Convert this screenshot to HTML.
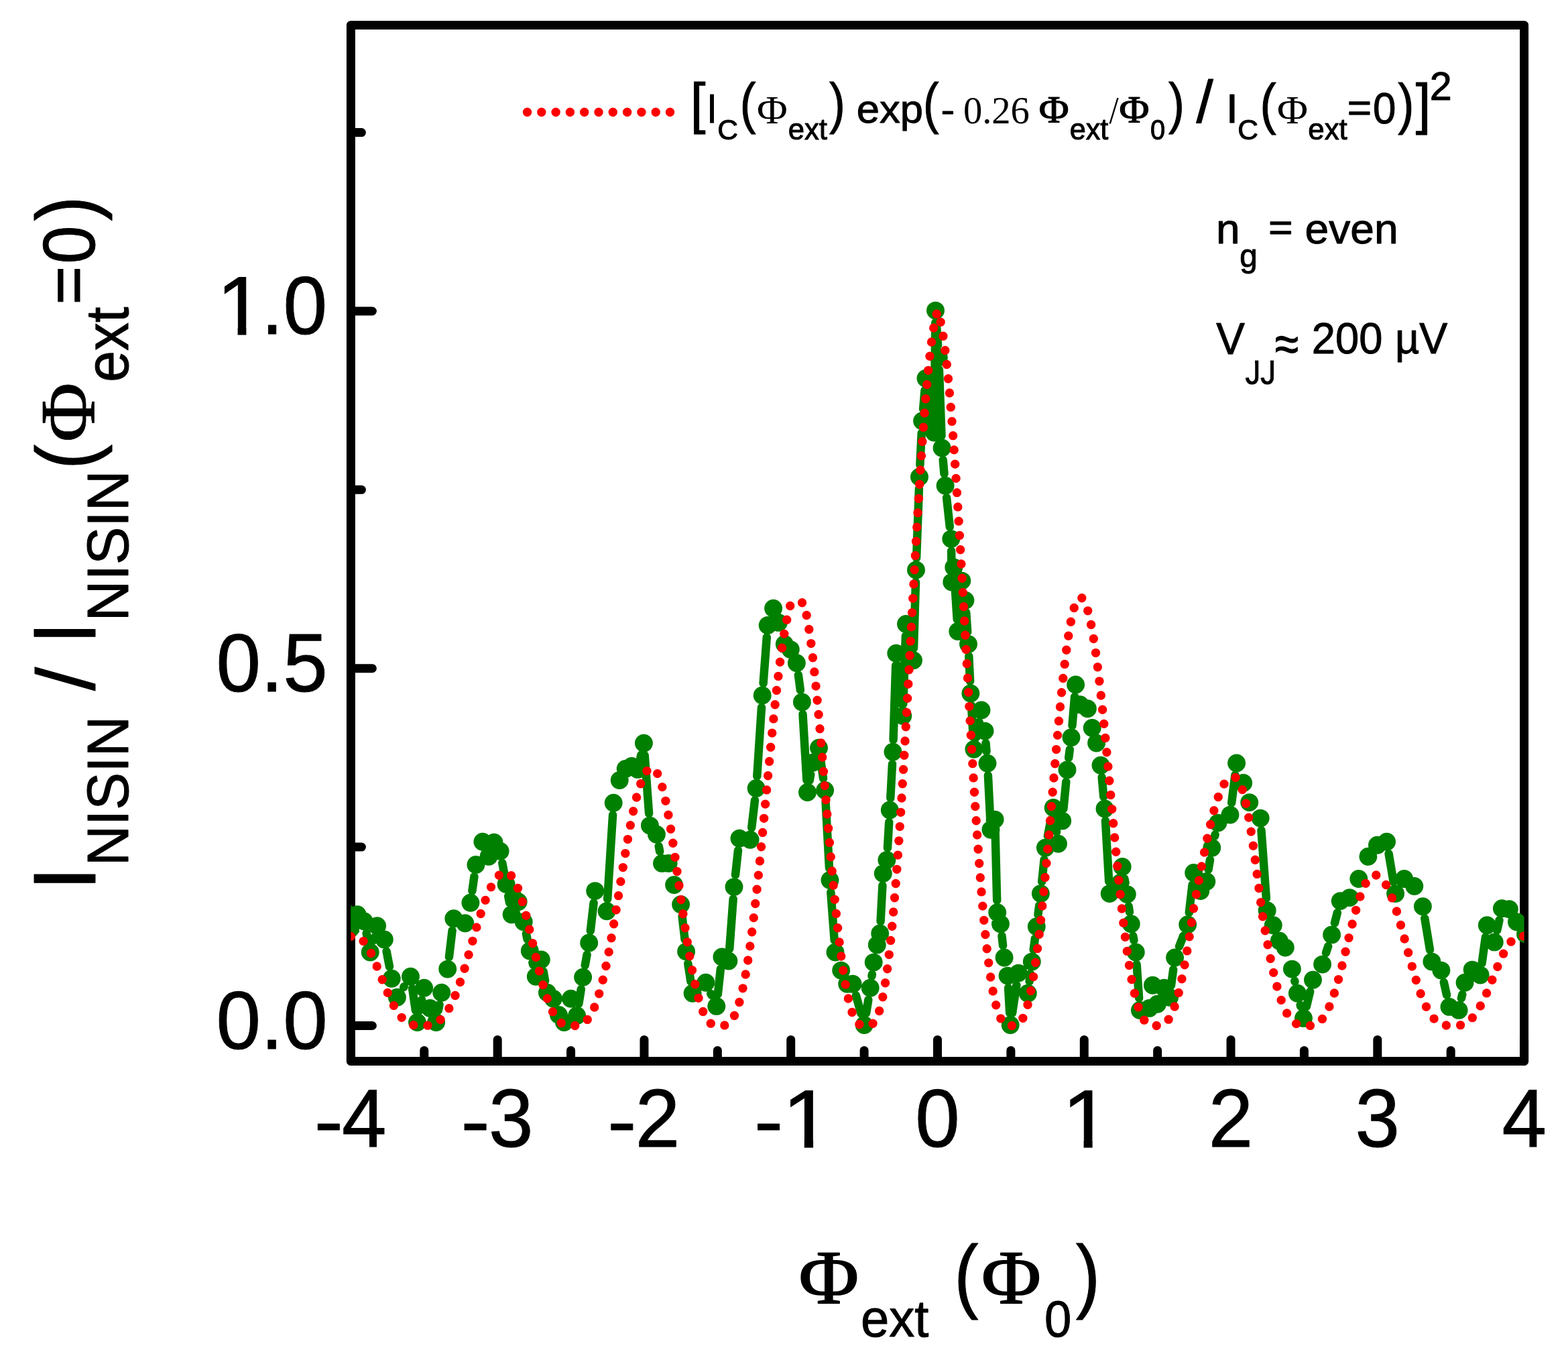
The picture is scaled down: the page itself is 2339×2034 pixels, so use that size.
<!DOCTYPE html>
<html><head><meta charset="utf-8"><title>Flux modulation of NISIN current</title>
<style>html,body{margin:0;padding:0;background:#fff}svg{display:block}text{white-space:pre}</style></head>
<body><svg width="2339" height="2034" viewBox="0 0 2339 2034">
<rect width="2339" height="2034" fill="#fff"/>
<rect x="523.4" y="37.4" width="1750.1999999999998" height="1545.0" fill="none" stroke="#000" stroke-width="13" stroke-linejoin="round"/>
<path d="M523.40,1582.4v-32 M742.18,1582.4v-32 M960.95,1582.4v-32 M1179.72,1582.4v-32 M1398.50,1582.4v-32 M1617.28,1582.4v-32 M1836.05,1582.4v-32 M2054.82,1582.4v-32 M2273.60,1582.4v-32 M632.79,1582.4v-16 M851.56,1582.4v-16 M1070.34,1582.4v-16 M1289.11,1582.4v-16 M1507.89,1582.4v-16 M1726.66,1582.4v-16 M1945.44,1582.4v-16 M2164.21,1582.4v-16 M523.4,1529.50h32 M523.4,996.74h32 M523.4,463.98h32 M523.4,1263.12h16 M523.4,730.36h16 M523.4,197.60h16" stroke="#000" stroke-width="13" stroke-linecap="round" fill="none"/>
<clipPath id="c1"><path d="M0,-75H40V-8.6H34.5V2H24.6V-8.6H0Z"/></clipPath>
<text transform="matrix(1.3102,0,0,1.1484,468.50,1710.53)" font-family='"Liberation Sans", Arial, sans-serif' font-size="100" stroke="#000" stroke-width="0.81" stroke-linejoin="round" fill="#000">-</text>
<text transform="translate(510.10,1710.40) scale(1,1.024)" font-family='"Liberation Sans", Arial, sans-serif' font-size="119.5" text-anchor="start" stroke="#000" stroke-width="1.0">4</text>
<text transform="matrix(1.3102,0,0,1.1484,687.28,1710.53)" font-family='"Liberation Sans", Arial, sans-serif' font-size="100" stroke="#000" stroke-width="0.81" stroke-linejoin="round" fill="#000">-</text>
<text transform="translate(728.88,1710.40) scale(1,1.024)" font-family='"Liberation Sans", Arial, sans-serif' font-size="119.5" text-anchor="start" stroke="#000" stroke-width="1.0">3</text>
<text transform="matrix(1.3102,0,0,1.1484,906.05,1710.53)" font-family='"Liberation Sans", Arial, sans-serif' font-size="100" stroke="#000" stroke-width="0.81" stroke-linejoin="round" fill="#000">-</text>
<text transform="translate(947.65,1710.40) scale(1,1.024)" font-family='"Liberation Sans", Arial, sans-serif' font-size="119.5" text-anchor="start" stroke="#000" stroke-width="1.0">2</text>
<text transform="matrix(1.3102,0,0,1.1484,1124.83,1710.53)" font-family='"Liberation Sans", Arial, sans-serif' font-size="100" stroke="#000" stroke-width="0.81" stroke-linejoin="round" fill="#000">-</text>
<text transform="matrix(1.3402,0,0,1.2267,1166.86,1710.50)" clip-path="url(#c1)" font-family='"Liberation Sans", Arial, sans-serif' font-size="100" stroke="#000" stroke-width="0.78">1</text>
<text transform="translate(1398.50,1710.40) scale(1,1.024)" font-family='"Liberation Sans", Arial, sans-serif' font-size="119.5" text-anchor="middle" stroke="#000" stroke-width="1.0">0</text>
<text transform="matrix(1.3156,0,0,1.2267,1584.25,1710.50)" clip-path="url(#c1)" font-family='"Liberation Sans", Arial, sans-serif' font-size="100" stroke="#000" stroke-width="0.79">1</text>
<text transform="translate(1836.05,1710.40) scale(1,1.024)" font-family='"Liberation Sans", Arial, sans-serif' font-size="119.5" text-anchor="middle" stroke="#000" stroke-width="1.0">2</text>
<text transform="translate(2054.82,1710.40) scale(1,1.024)" font-family='"Liberation Sans", Arial, sans-serif' font-size="119.5" text-anchor="middle" stroke="#000" stroke-width="1.0">3</text>
<text transform="translate(2273.60,1710.40) scale(1,1.024)" font-family='"Liberation Sans", Arial, sans-serif' font-size="119.5" text-anchor="middle" stroke="#000" stroke-width="1.0">4</text>
<text transform="translate(488.60,1564.10) scale(1,1.024)" font-family='"Liberation Sans", Arial, sans-serif' font-size="119.5" text-anchor="end" stroke="#000" stroke-width="1.0">0.0</text>
<text transform="translate(488.60,1031.34) scale(1,1.024)" font-family='"Liberation Sans", Arial, sans-serif' font-size="119.5" text-anchor="end" stroke="#000" stroke-width="1.0">0.5</text>
<text transform="matrix(1.2869,0,0,1.2369,322.95,498.50)" clip-path="url(#c1)" font-family='"Liberation Sans", Arial, sans-serif' font-size="100" stroke="#000" stroke-width="0.79">1</text>
<text transform="matrix(1.1787,0,0,1.2198,389.79,498.28)" font-family='"Liberation Sans", Arial, sans-serif' font-size="100" stroke="#000" stroke-width="0.83" stroke-linejoin="round" fill="#000">.0</text>
<clipPath id="cp"><rect x="523.4" y="37.4" width="1750.1999999999998" height="1545.0"/></clipPath>
<g clip-path="url(#cp)">
<path d="M546.6,1391.5L548.7,1402.3 M556.8,1402.6L558.0,1398.2 M576.6,1418.6L581.0,1441.5 M602.2,1472.2L602.7,1471.3 M615.1,1474.0L619.9,1506.7 M626.0,1506.8L629.1,1490.9 M653.8,1506.8L655.5,1498.0 M669.9,1427.2L674.6,1387.7 M704.4,1328.5L707.4,1307.2 M749.3,1287.0L751.9,1300.8 M758.2,1336.2L760.0,1346.0 M784.9,1392.4L786.6,1400.4 M794.4,1435.5L795.2,1438.7 M810.6,1448.7L813.1,1462.6 M863.4,1496.6L866.8,1475.0 M872.7,1439.5L875.6,1423.6 M880.8,1388.0L885.6,1346.5 M906.2,1340.7L914.1,1215.2 M955.4,1129.9L956.3,1125.7 M961.7,1126.2L968.1,1213.1 M982.7,1261.9L984.2,1269.7 M1017.6,1366.6L1021.6,1401.1 M1026.3,1436.8L1030.4,1463.5 M1060.2,1481.6L1061.4,1484.0 M1070.8,1482.5L1074.9,1444.9 M1088.2,1415.0L1093.7,1340.6 M1097.0,1304.7L1101.0,1268.1 M1121.2,1234.3L1126.0,1193.4 M1129.3,1157.5L1136.0,1054.9 M1138.6,1019.0L1143.8,950.3 M1190.9,1006.5L1193.9,1029.1 M1197.5,1064.9L1203.4,1163.5 M1207.7,1163.8L1209.3,1155.0 M1224.1,1133.0L1228.0,1160.7 M1231.6,1196.5L1237.0,1294.5 M1239.3,1330.5L1244.7,1402.0 M1276.9,1484.5L1284.4,1511.2 M1292.1,1510.7L1295.3,1491.0 M1300.5,1455.4L1300.9,1452.9 M1313.6,1373.9L1316.4,1320.5 M1324.0,1264.4L1326.2,1226.0 M1328.3,1190.0L1331.0,1139.3 M1332.6,1103.3L1336.2,992.2 M1338.7,992.1L1344.9,1049.7 M1347.4,1049.6L1350.9,948.4 M1355.1,948.0L1358.9,967.1 M1363.0,966.7L1366.0,868.0 M1367.1,832.0L1370.9,729.2 M1372.4,693.2L1374.7,645.8 M1377.1,609.9L1379.5,582.1 M1383.8,582.0L1390.7,627.2 M1393.7,627.0L1395.3,481.1 M1396.7,481.1L1399.1,515.0 M1400.9,551.0L1404.5,650.0 M1406.7,685.9L1408.5,706.4 M1412.1,742.2L1416.8,785.7 M1419.1,821.6L1419.5,850.1 M1423.9,864.0L1427.7,923.5 M1430.2,923.6L1433.4,884.0 M1441.2,913.2L1443.2,942.5 M1445.3,978.5L1447.1,1015.9 M1449.0,1051.9L1451.8,1099.2 M1456.3,1099.5L1460.6,1076.7 M1470.5,1108.0L1471.5,1120.4 M1473.9,1156.3L1477.1,1219.2 M1484.6,1240.1L1487.2,1342.7 M1494.5,1395.7L1496.1,1410.1 M1504.1,1473.1L1506.2,1510.5 M1510.0,1510.7L1516.4,1468.9 M1535.6,1463.4L1537.0,1452.0 M1541.7,1416.3L1543.9,1399.6 M1548.5,1363.9L1550.2,1350.5 M1554.2,1314.7L1557.6,1282.2 M1562.9,1246.6L1567.7,1222.2 M1573.6,1222.3L1576.1,1240.5 M1586.4,1206.2L1590.3,1165.9 M1594.2,1130.1L1595.8,1117.7 M1599.5,1081.9L1603.1,1038.9 M1643.7,1159.1L1646.3,1188.1 M1649.0,1224.0L1654.2,1314.6 M1677.3,1310.1L1678.2,1315.9 M1683.7,1351.4L1684.9,1360.0 M1690.2,1395.6L1691.4,1402.2 M1695.6,1438.0L1699.1,1488.4 M1747.0,1469.5L1750.2,1445.8 M1759.1,1411.2L1765.2,1395.6 M1773.8,1360.9L1778.6,1319.4 M1802.6,1296.7L1805.0,1282.1 M1812.1,1246.8L1812.6,1244.6 M1837.2,1197.2L1842.4,1155.8 M1881.5,1238.1L1888.9,1339.7 M1931.3,1462.7L1931.5,1463.7 M1939.7,1498.8L1940.2,1500.9 M1948.8,1500.9L1954.2,1478.7 M1978.0,1420.9L1981.2,1411.1 M1991.0,1376.4L1994.9,1361.1 M2071.6,1273.0L2078.6,1314.8 M2125.3,1369.5L2133.0,1416.3 M2153.8,1464.7L2158.1,1483.8 M2179.9,1488.8L2181.3,1482.8 M2210.6,1436.3L2215.9,1397.6 M2233.2,1387.3L2236.5,1372.3" fill="none" stroke="#008000" stroke-width="12.5" stroke-linecap="round"/>
<path d="M523,1349L535,1362L536,1389.8L530.1,1396.5L523,1389.8Z" fill="#008000"/>
<path d="M523.5,1376.8h0 M533.1,1363.7h0 M543.1,1373.8h0 M552.2,1420.0h0 M562.6,1380.8h0 M573.3,1400.9h0 M584.3,1459.2h0 M592.4,1487.3h0 M612.5,1456.2h0 M622.5,1524.5h0 M632.6,1473.2h0 M641.6,1503.4h0 M650.6,1524.5h0 M658.7,1480.3h0 M667.7,1445.1h0 M676.8,1369.8h0 M693.8,1376.8h0 M701.9,1346.3h0 M709.9,1289.4h0 M719.9,1255.2h0 M729.0,1277.3h0 M737.0,1256.3h0 M746.1,1269.3h0 M755.1,1318.5h0 M763.1,1363.7h0 M766.2,1338.6h0 M773.2,1344.7h0 M781.2,1374.8h0 M790.3,1418.0h0 M799.3,1456.2h0 M807.3,1431.0h0 M816.4,1480.3h0 M825.4,1489.3h0 M833.5,1513.4h0 M841.5,1524.5h0 M851.5,1489.3h0 M860.6,1514.4h0 M869.6,1457.2h0 M878.7,1405.9h0 M887.7,1328.6h0 M905.1,1358.7h0 M915.2,1197.2h0 M924.2,1163.5h0 M933.2,1146.4h0 M942.3,1142.4h0 M951.3,1147.4h0 M960.4,1108.2h0 M969.4,1231.1h0 M979.4,1244.2h0 M987.5,1287.4h0 M997.1,1287.4h0 M1005.6,1319.5h0 M1015.6,1348.7h0 M1023.6,1419.0h0 M1033.1,1481.3h0 M1052.8,1465.2h0 M1068.8,1500.4h0 M1076.9,1427.0h0 M1086.9,1433.0h0 M1095.0,1322.6h0 M1103.0,1250.2h0 M1119.1,1252.2h0 M1128.1,1175.5h0 M1137.2,1036.9h0 M1145.2,932.4h0 M1153.6,907.3h0 M1161.3,928.4h0 M1170.3,960.5h0 M1179.3,968.6h0 M1188.4,988.7h0 M1196.4,1046.9h0 M1204.5,1181.5h0 M1212.5,1137.3h0 M1221.5,1115.2h0 M1230.6,1178.5h0 M1238.0,1312.5h0 M1246.0,1420.0h0 M1254.7,1447.1h0 M1263.7,1467.2h0 M1272.1,1467.2h0 M1289.2,1528.5h0 M1298.2,1473.2h0 M1303.2,1435.1h0 M1308.3,1408.9h0 M1312.7,1391.9h0 M1317.3,1302.5h0 M1322.9,1282.4h0 M1327.3,1208.0h0 M1332.0,1121.3h0 M1336.8,974.2h0 M1346.8,1067.6h0 M1351.5,930.4h0 M1362.5,984.7h0 M1366.5,850.0h0 M1371.5,711.2h0 M1375.6,627.8h0 M1381.0,564.2h0 M1393.5,645.0h0 M1395.5,463.1h0 M1400.3,533.0h0 M1405.1,668.0h0 M1410.1,724.3h0 M1418.8,803.6h0 M1419.8,868.1h0 M1422.8,846.0h0 M1428.8,941.5h0 M1434.8,866.1h0 M1439.9,895.2h0 M1444.5,960.5h0 M1447.9,1033.9h0 M1452.9,1117.2h0 M1464.0,1059.0h0 M1469.0,1090.1h0 M1473.0,1138.3h0 M1478.0,1237.2h0 M1484.1,1222.1h0 M1487.7,1360.7h0 M1492.5,1377.8h0 M1498.1,1428.0h0 M1503.1,1455.1h0 M1507.2,1528.5h0 M1519.2,1451.1h0 M1533.3,1481.3h0 M1539.3,1434.1h0 M1546.3,1381.8h0 M1552.4,1332.6h0 M1559.4,1264.3h0 M1571.2,1204.5h0 M1578.5,1258.3h0 M1584.7,1224.1h0 M1592.0,1148.0h0 M1598.0,1099.8h0 M1604.6,1021.0h0 M1611.1,1050.8h0 M1622.4,1056.8h0 M1629.2,1085.5h0 M1635.6,1108.1h0 M1642.0,1141.2h0 M1648.0,1206.0h0 M1655.2,1332.6h0 M1671.2,1316.5h0 M1674.2,1292.4h0 M1681.3,1333.6h0 M1687.3,1377.8h0 M1694.3,1420.0h0 M1700.4,1506.4h0 M1714.4,1503.4h0 M1719.4,1469.2h0 M1726.5,1497.3h0 M1736.5,1473.2h0 M1744.6,1487.3h0 M1752.6,1428.0h0 M1771.7,1378.8h0 M1780.7,1301.5h0 M1790.8,1328.6h0 M1799.8,1314.5h0 M1807.8,1264.3h0 M1816.9,1227.1h0 M1835.0,1215.1h0 M1844.6,1137.9h0 M1854.7,1167.5h0 M1863.7,1196.6h0 M1880.2,1220.1h0 M1890.2,1357.7h0 M1899.3,1379.8h0 M1908.3,1402.9h0 M1917.3,1413.0h0 M1927.4,1445.1h0 M1935.4,1481.3h0 M1944.5,1518.4h0 M1958.5,1461.2h0 M1972.6,1438.1h0 M1986.6,1393.9h0 M1999.3,1343.6h0 M2013.3,1338.6h0 M2026.8,1310.5h0 M2040.9,1277.3h0 M2054.5,1260.3h0 M2068.6,1255.2h0 M2081.6,1332.6h0 M2094.7,1310.5h0 M2109.8,1321.5h0 M2122.4,1351.7h0 M2135.9,1434.1h0 M2149.9,1447.1h0 M2162.0,1501.4h0 M2176.1,1506.4h0 M2185.1,1465.2h0 M2196.2,1446.1h0 M2208.2,1454.1h0 M2218.3,1379.8h0 M2229.3,1404.9h0 M2240.4,1354.7h0 M2251.4,1355.7h0 M2262.5,1374.8h0 M2275.5,1392.9h0" fill="none" stroke="#008000" stroke-width="26.9" stroke-linecap="round"/>
<path d="M523.40,1396.38 L523.95,1396.22 L524.49,1396.08 L525.04,1395.96 L525.59,1395.86 L526.13,1395.79 L526.68,1395.73 L527.23,1395.70 L527.78,1395.69 L528.32,1395.70 L528.87,1395.73 L529.42,1395.78 L529.96,1395.86 L530.51,1395.96 L531.06,1396.08 L531.60,1396.23 L532.15,1396.40 L532.70,1396.59 L533.24,1396.80 L533.79,1397.04 L534.34,1397.30 L534.89,1397.58 L535.43,1397.89 L535.98,1398.23 L536.53,1398.58 L537.07,1398.96 L537.62,1399.37 L538.17,1399.80 L538.71,1400.25 L539.26,1400.73 L539.81,1401.23 L540.36,1401.76 L540.90,1402.31 L541.45,1402.88 L542.00,1403.48 L542.54,1404.11 L543.09,1404.76 L543.64,1405.43 L544.18,1406.13 L544.73,1406.85 L545.28,1407.60 L545.82,1408.37 L546.37,1409.16 L546.92,1409.98 L547.47,1410.82 L548.01,1411.69 L548.56,1412.58 L549.11,1413.49 L549.65,1414.42 L550.20,1415.37 L550.75,1416.35 L551.29,1417.35 L551.84,1418.37 L552.39,1419.41 L552.93,1420.47 L553.48,1421.55 L554.03,1422.64 L554.58,1423.76 L555.12,1424.90 L555.67,1426.05 L556.22,1427.22 L556.76,1428.40 L557.31,1429.61 L557.86,1430.82 L558.40,1432.05 L558.95,1433.30 L559.50,1434.56 L560.04,1435.83 L560.59,1437.11 L561.14,1438.40 L561.69,1439.71 L562.23,1441.02 L562.78,1442.34 L563.33,1443.67 L563.87,1445.01 L564.42,1446.35 L564.97,1447.70 L565.51,1449.06 L566.06,1450.42 L566.61,1451.78 L567.16,1453.15 L567.70,1454.51 L568.25,1455.88 L568.80,1457.25 L569.34,1458.62 L569.89,1459.99 L570.44,1461.35 L570.98,1462.72 L571.53,1464.08 L572.08,1465.44 L572.62,1466.79 L573.17,1468.14 L573.72,1469.48 L574.27,1470.82 L574.81,1472.14 L575.36,1473.46 L575.91,1474.78 L576.45,1476.08 L577.00,1477.37 L577.55,1478.66 L578.09,1479.93 L578.64,1481.20 L579.19,1482.45 L579.73,1483.69 L580.28,1484.91 L580.83,1486.13 L581.38,1487.33 L581.92,1488.52 L582.47,1489.69 L583.02,1490.85 L583.56,1491.99 L584.11,1493.12 L584.66,1494.23 L585.20,1495.33 L585.75,1496.41 L586.30,1497.47 L586.84,1498.52 L587.39,1499.55 L587.94,1500.57 L588.49,1501.56 L589.03,1502.54 L589.58,1503.50 L590.13,1504.45 L590.67,1505.37 L591.22,1506.28 L591.77,1507.17 L592.31,1508.04 L592.86,1508.89 L593.41,1509.72 L593.95,1510.53 L594.50,1511.33 L595.05,1512.11 L595.60,1512.86 L596.14,1513.60 L596.69,1514.32 L597.24,1515.02 L597.78,1515.71 L598.33,1516.37 L598.88,1517.01 L599.42,1517.64 L599.97,1518.25 L600.52,1518.83 L601.07,1519.40 L601.61,1519.95 L602.16,1520.49 L602.71,1521.00 L603.25,1521.50 L603.80,1521.98 L604.35,1522.44 L604.89,1522.88 L605.44,1523.31 L605.99,1523.72 L606.53,1524.11 L607.08,1524.48 L607.63,1524.84 L608.18,1525.18 L608.72,1525.51 L609.27,1525.82 L609.82,1526.11 L610.36,1526.39 L610.91,1526.66 L611.46,1526.91 L612.00,1527.14 L612.55,1527.36 L613.10,1527.57 L613.64,1527.76 L614.19,1527.95 L614.74,1528.11 L615.29,1528.27 L615.83,1528.41 L616.38,1528.55 L616.93,1528.67 L617.47,1528.78 L618.02,1528.88 L618.57,1528.97 L619.11,1529.05 L619.66,1529.13 L620.21,1529.19 L620.75,1529.25 L621.30,1529.30 L621.85,1529.34 L622.40,1529.38 L622.94,1529.41 L623.49,1529.43 L624.04,1529.45 L624.58,1529.47 L625.13,1529.48 L625.68,1529.49 L626.22,1529.49 L626.77,1529.50 L627.32,1529.50 L627.87,1529.50 L628.41,1529.50 L628.96,1529.50 L629.51,1529.50 L630.05,1529.50 L630.60,1529.50 L631.15,1529.49 L631.69,1529.49 L632.24,1529.48 L632.79,1529.47 L633.33,1529.45 L633.88,1529.44 L634.43,1529.42 L634.98,1529.39 L635.52,1529.36 L636.07,1529.33 L636.62,1529.29 L637.16,1529.24 L637.71,1529.19 L638.26,1529.13 L638.80,1529.07 L639.35,1529.00 L639.90,1528.92 L640.44,1528.83 L640.99,1528.73 L641.54,1528.63 L642.09,1528.52 L642.63,1528.39 L643.18,1528.26 L643.73,1528.12 L644.27,1527.96 L644.82,1527.80 L645.37,1527.62 L645.91,1527.44 L646.46,1527.24 L647.01,1527.03 L647.55,1526.81 L648.10,1526.57 L648.65,1526.32 L649.20,1526.06 L649.74,1525.78 L650.29,1525.49 L650.84,1525.18 L651.38,1524.86 L651.93,1524.53 L652.48,1524.18 L653.02,1523.81 L653.57,1523.43 L654.12,1523.03 L654.67,1522.62 L655.21,1522.19 L655.76,1521.74 L656.31,1521.27 L656.85,1520.79 L657.40,1520.29 L657.95,1519.77 L658.49,1519.24 L659.04,1518.68 L659.59,1518.11 L660.13,1517.51 L660.68,1516.90 L661.23,1516.27 L661.78,1515.62 L662.32,1514.95 L662.87,1514.26 L663.42,1513.55 L663.96,1512.82 L664.51,1512.07 L665.06,1511.30 L665.60,1510.51 L666.15,1509.70 L666.70,1508.87 L667.24,1508.01 L667.79,1507.14 L668.34,1506.24 L668.89,1505.33 L669.43,1504.39 L669.98,1503.43 L670.53,1502.45 L671.07,1501.44 L671.62,1500.42 L672.17,1499.37 L672.71,1498.30 L673.26,1497.21 L673.81,1496.10 L674.35,1494.97 L674.90,1493.81 L675.45,1492.64 L676.00,1491.44 L676.54,1490.22 L677.09,1488.98 L677.64,1487.72 L678.18,1486.43 L678.73,1485.13 L679.28,1483.80 L679.82,1482.45 L680.37,1481.09 L680.92,1479.70 L681.46,1478.29 L682.01,1476.86 L682.56,1475.41 L683.11,1473.94 L683.65,1472.45 L684.20,1470.94 L684.75,1469.41 L685.29,1467.86 L685.84,1466.30 L686.39,1464.71 L686.93,1463.11 L687.48,1461.49 L688.03,1459.85 L688.58,1458.20 L689.12,1456.53 L689.67,1454.84 L690.22,1453.14 L690.76,1451.42 L691.31,1449.69 L691.86,1447.94 L692.40,1446.18 L692.95,1444.41 L693.50,1442.62 L694.04,1440.82 L694.59,1439.01 L695.14,1437.19 L695.69,1435.36 L696.23,1433.52 L696.78,1431.67 L697.33,1429.81 L697.87,1427.94 L698.42,1426.06 L698.97,1424.18 L699.51,1422.29 L700.06,1420.40 L700.61,1418.50 L701.15,1416.60 L701.70,1414.69 L702.25,1412.78 L702.80,1410.87 L703.34,1408.96 L703.89,1407.05 L704.44,1405.14 L704.98,1403.23 L705.53,1401.32 L706.08,1399.41 L706.62,1397.51 L707.17,1395.61 L707.72,1393.71 L708.26,1391.82 L708.81,1389.94 L709.36,1388.06 L709.91,1386.19 L710.45,1384.33 L711.00,1382.48 L711.55,1380.63 L712.09,1378.80 L712.64,1376.98 L713.19,1375.17 L713.73,1373.37 L714.28,1371.59 L714.83,1369.81 L715.38,1368.06 L715.92,1366.31 L716.47,1364.58 L717.02,1362.87 L717.56,1361.18 L718.11,1359.50 L718.66,1357.84 L719.20,1356.19 L719.75,1354.57 L720.30,1352.96 L720.84,1351.38 L721.39,1349.81 L721.94,1348.26 L722.49,1346.74 L723.03,1345.23 L723.58,1343.75 L724.13,1342.29 L724.67,1340.85 L725.22,1339.43 L725.77,1338.04 L726.31,1336.66 L726.86,1335.32 L727.41,1333.99 L727.95,1332.69 L728.50,1331.41 L729.05,1330.16 L729.60,1328.93 L730.14,1327.73 L730.69,1326.55 L731.24,1325.39 L731.78,1324.26 L732.33,1323.16 L732.88,1322.08 L733.42,1321.02 L733.97,1319.99 L734.52,1318.99 L735.06,1318.01 L735.61,1317.06 L736.16,1316.14 L736.71,1315.23 L737.25,1314.36 L737.80,1313.51 L738.35,1312.69 L738.89,1311.89 L739.44,1311.12 L739.99,1310.38 L740.53,1309.66 L741.08,1308.97 L741.63,1308.30 L742.18,1307.66 L742.72,1307.05 L743.27,1306.47 L743.82,1305.91 L744.36,1305.37 L744.91,1304.87 L745.46,1304.39 L746.00,1303.94 L746.55,1303.51 L747.10,1303.11 L747.64,1302.74 L748.19,1302.39 L748.74,1302.08 L749.29,1301.79 L749.83,1301.52 L750.38,1301.29 L750.93,1301.08 L751.47,1300.90 L752.02,1300.75 L752.57,1300.63 L753.11,1300.53 L753.66,1300.51 L754.21,1300.52 L754.75,1300.56 L755.30,1300.65 L755.85,1300.78 L756.40,1300.94 L756.94,1301.15 L757.49,1301.40 L758.04,1301.68 L758.58,1302.00 L759.13,1302.37 L759.68,1302.78 L760.22,1303.22 L760.77,1303.71 L761.32,1304.24 L761.86,1304.81 L762.41,1305.42 L762.96,1306.08 L763.51,1306.78 L764.05,1307.51 L764.60,1308.30 L765.15,1309.12 L765.69,1309.99 L766.24,1310.90 L766.79,1311.85 L767.33,1312.84 L767.88,1313.88 L768.43,1314.96 L768.97,1316.08 L769.52,1317.25 L770.07,1318.46 L770.62,1319.71 L771.16,1321.00 L771.71,1322.33 L772.26,1323.71 L772.80,1325.12 L773.35,1326.58 L773.90,1328.08 L774.44,1329.62 L774.99,1331.19 L775.54,1332.81 L776.09,1334.46 L776.63,1336.16 L777.18,1337.89 L777.73,1339.65 L778.27,1341.45 L778.82,1343.29 L779.37,1345.16 L779.91,1347.06 L780.46,1349.00 L781.01,1350.96 L781.55,1352.96 L782.10,1354.99 L782.65,1357.04 L783.20,1359.12 L783.74,1361.23 L784.29,1363.36 L784.84,1365.52 L785.38,1367.70 L785.93,1369.90 L786.48,1372.12 L787.02,1374.36 L787.57,1376.61 L788.12,1378.89 L788.66,1381.17 L789.21,1383.48 L789.76,1385.79 L790.31,1388.11 L790.85,1390.45 L791.40,1392.79 L791.95,1395.14 L792.49,1397.49 L793.04,1399.85 L793.59,1402.22 L794.13,1404.58 L794.68,1406.94 L795.23,1409.31 L795.77,1411.67 L796.32,1414.02 L796.87,1416.38 L797.42,1418.72 L797.96,1421.06 L798.51,1423.39 L799.06,1425.72 L799.60,1428.03 L800.15,1430.33 L800.70,1432.61 L801.24,1434.89 L801.79,1437.14 L802.34,1439.38 L802.89,1441.61 L803.43,1443.82 L803.98,1446.00 L804.53,1448.17 L805.07,1450.32 L805.62,1452.45 L806.17,1454.55 L806.71,1456.63 L807.26,1458.69 L807.81,1460.72 L808.35,1462.73 L808.90,1464.71 L809.45,1466.67 L810.00,1468.60 L810.54,1470.50 L811.09,1472.37 L811.64,1474.22 L812.18,1476.03 L812.73,1477.82 L813.28,1479.58 L813.82,1481.31 L814.37,1483.00 L814.92,1484.67 L815.46,1486.30 L816.01,1487.91 L816.56,1489.48 L817.11,1491.02 L817.65,1492.52 L818.20,1494.00 L818.75,1495.44 L819.29,1496.85 L819.84,1498.23 L820.39,1499.57 L820.93,1500.89 L821.48,1502.16 L822.03,1503.41 L822.57,1504.62 L823.12,1505.80 L823.67,1506.95 L824.22,1508.06 L824.76,1509.15 L825.31,1510.20 L825.86,1511.21 L826.40,1512.20 L826.95,1513.15 L827.50,1514.07 L828.04,1514.96 L828.59,1515.82 L829.14,1516.64 L829.69,1517.44 L830.23,1518.20 L830.78,1518.94 L831.33,1519.64 L831.87,1520.31 L832.42,1520.96 L832.97,1521.58 L833.51,1522.16 L834.06,1522.72 L834.61,1523.26 L835.15,1523.76 L835.70,1524.24 L836.25,1524.69 L836.80,1525.12 L837.34,1525.52 L837.89,1525.90 L838.44,1526.25 L838.98,1526.59 L839.53,1526.89 L840.08,1527.18 L840.62,1527.45 L841.17,1527.69 L841.72,1527.92 L842.26,1528.12 L842.81,1528.31 L843.36,1528.48 L843.91,1528.63 L844.45,1528.77 L845.00,1528.89 L845.55,1529.00 L846.09,1529.10 L846.64,1529.18 L847.19,1529.25 L847.73,1529.31 L848.28,1529.36 L848.83,1529.40 L849.37,1529.43 L849.92,1529.45 L850.47,1529.47 L851.02,1529.48 L851.56,1529.49 L852.11,1529.50 L852.66,1529.50 L853.20,1529.50 L853.75,1529.50 L854.30,1529.50 L854.84,1529.50 L855.39,1529.50 L855.94,1529.49 L856.48,1529.48 L857.03,1529.47 L857.58,1529.45 L858.13,1529.42 L858.67,1529.39 L859.22,1529.36 L859.77,1529.31 L860.31,1529.26 L860.86,1529.19 L861.41,1529.12 L861.95,1529.03 L862.50,1528.93 L863.05,1528.82 L863.60,1528.70 L864.14,1528.56 L864.69,1528.41 L865.24,1528.24 L865.78,1528.06 L866.33,1527.86 L866.88,1527.64 L867.42,1527.40 L867.97,1527.14 L868.52,1526.86 L869.06,1526.56 L869.61,1526.24 L870.16,1525.90 L870.71,1525.53 L871.25,1525.14 L871.80,1524.73 L872.35,1524.29 L872.89,1523.83 L873.44,1523.34 L873.99,1522.82 L874.53,1522.28 L875.08,1521.71 L875.63,1521.11 L876.17,1520.48 L876.72,1519.82 L877.27,1519.13 L877.82,1518.41 L878.36,1517.65 L878.91,1516.87 L879.46,1516.05 L880.00,1515.20 L880.55,1514.32 L881.10,1513.40 L881.64,1512.45 L882.19,1511.46 L882.74,1510.44 L883.28,1509.38 L883.83,1508.29 L884.38,1507.16 L884.93,1505.99 L885.47,1504.79 L886.02,1503.54 L886.57,1502.26 L887.11,1500.94 L887.66,1499.59 L888.21,1498.19 L888.75,1496.75 L889.30,1495.28 L889.85,1493.76 L890.40,1492.21 L890.94,1490.61 L891.49,1488.97 L892.04,1487.30 L892.58,1485.58 L893.13,1483.82 L893.68,1482.02 L894.22,1480.18 L894.77,1478.30 L895.32,1476.38 L895.86,1474.42 L896.41,1472.41 L896.96,1470.37 L897.51,1468.28 L898.05,1466.15 L898.60,1463.98 L899.15,1461.77 L899.69,1459.52 L900.24,1457.23 L900.79,1454.90 L901.33,1452.53 L901.88,1450.12 L902.43,1447.66 L902.97,1445.17 L903.52,1442.65 L904.07,1440.08 L904.62,1437.47 L905.16,1434.83 L905.71,1432.15 L906.26,1429.43 L906.80,1426.68 L907.35,1423.89 L907.90,1421.07 L908.44,1418.21 L908.99,1415.32 L909.54,1412.40 L910.08,1409.44 L910.63,1406.45 L911.18,1403.44 L911.73,1400.39 L912.27,1397.32 L912.82,1394.21 L913.37,1391.08 L913.91,1387.93 L914.46,1384.75 L915.01,1381.54 L915.55,1378.32 L916.10,1375.07 L916.65,1371.80 L917.19,1368.52 L917.74,1365.21 L918.29,1361.89 L918.84,1358.55 L919.38,1355.20 L919.93,1351.84 L920.48,1348.47 L921.02,1345.08 L921.57,1341.69 L922.12,1338.29 L922.66,1334.89 L923.21,1331.48 L923.76,1328.06 L924.31,1324.65 L924.85,1321.24 L925.40,1317.83 L925.95,1314.42 L926.49,1311.01 L927.04,1307.61 L927.59,1304.22 L928.13,1300.84 L928.68,1297.47 L929.23,1294.11 L929.77,1290.76 L930.32,1287.43 L930.87,1284.11 L931.42,1280.81 L931.96,1277.54 L932.51,1274.28 L933.06,1271.04 L933.60,1267.82 L934.15,1264.63 L934.70,1261.47 L935.24,1258.33 L935.79,1255.22 L936.34,1252.14 L936.88,1249.09 L937.43,1246.07 L937.98,1243.08 L938.53,1240.13 L939.07,1237.21 L939.62,1234.33 L940.17,1231.48 L940.71,1228.67 L941.26,1225.90 L941.81,1223.17 L942.35,1220.47 L942.90,1217.82 L943.45,1215.21 L943.99,1212.64 L944.54,1210.12 L945.09,1207.63 L945.64,1205.20 L946.18,1202.80 L946.73,1200.45 L947.28,1198.15 L947.82,1195.89 L948.37,1193.68 L948.92,1191.51 L949.46,1189.39 L950.01,1187.32 L950.56,1185.29 L951.11,1183.32 L951.65,1181.39 L952.20,1179.51 L952.75,1177.68 L953.29,1175.89 L953.84,1174.16 L954.39,1172.47 L954.93,1170.84 L955.48,1169.25 L956.03,1167.71 L956.57,1166.22 L957.12,1164.78 L957.67,1163.39 L958.22,1162.05 L958.76,1160.76 L959.31,1159.52 L959.86,1158.34 L960.40,1157.20 L960.95,1156.11 L961.50,1155.07 L962.04,1154.08 L962.59,1153.14 L963.14,1152.25 L963.68,1151.41 L964.23,1150.63 L964.78,1149.89 L965.33,1149.21 L965.87,1148.58 L966.42,1147.99 L966.97,1147.46 L967.51,1146.99 L968.06,1146.56 L968.61,1146.19 L969.15,1145.87 L969.70,1145.60 L970.25,1145.38 L970.79,1145.22 L971.34,1145.13 L971.89,1145.11 L972.44,1145.16 L972.98,1145.26 L973.53,1145.43 L974.08,1145.66 L974.62,1145.96 L975.17,1146.32 L975.72,1146.74 L976.26,1147.23 L976.81,1147.79 L977.36,1148.41 L977.91,1149.09 L978.45,1149.85 L979.00,1150.67 L979.55,1151.55 L980.09,1152.51 L980.64,1153.53 L981.19,1154.62 L981.73,1155.77 L982.28,1157.00 L982.83,1158.29 L983.37,1159.66 L983.92,1161.09 L984.47,1162.59 L985.02,1164.16 L985.56,1165.80 L986.11,1167.51 L986.66,1169.29 L987.20,1171.14 L987.75,1173.06 L988.30,1175.04 L988.84,1177.10 L989.39,1179.22 L989.94,1181.41 L990.48,1183.67 L991.03,1185.99 L991.58,1188.38 L992.13,1190.84 L992.67,1193.36 L993.22,1195.95 L993.77,1198.60 L994.31,1201.31 L994.86,1204.08 L995.41,1206.91 L995.95,1209.80 L996.50,1212.75 L997.05,1215.76 L997.59,1218.82 L998.14,1221.94 L998.69,1225.11 L999.24,1228.33 L999.78,1231.60 L1000.33,1234.92 L1000.88,1238.29 L1001.42,1241.70 L1001.97,1245.15 L1002.52,1248.65 L1003.06,1252.18 L1003.61,1255.75 L1004.16,1259.36 L1004.71,1263.00 L1005.25,1266.67 L1005.80,1270.38 L1006.35,1274.11 L1006.89,1277.86 L1007.44,1281.64 L1007.99,1285.44 L1008.53,1289.26 L1009.08,1293.10 L1009.63,1296.95 L1010.17,1300.82 L1010.72,1304.69 L1011.27,1308.58 L1011.82,1312.47 L1012.36,1316.36 L1012.91,1320.26 L1013.46,1324.16 L1014.00,1328.05 L1014.55,1331.95 L1015.10,1335.83 L1015.64,1339.71 L1016.19,1343.58 L1016.74,1347.44 L1017.28,1351.28 L1017.83,1355.11 L1018.38,1358.92 L1018.93,1362.72 L1019.47,1366.49 L1020.02,1370.24 L1020.57,1373.96 L1021.11,1377.66 L1021.66,1381.34 L1022.21,1384.98 L1022.75,1388.60 L1023.30,1392.18 L1023.85,1395.73 L1024.39,1399.24 L1024.94,1402.72 L1025.49,1406.16 L1026.04,1409.57 L1026.58,1412.93 L1027.13,1416.26 L1027.68,1419.54 L1028.22,1422.79 L1028.77,1425.98 L1029.32,1429.14 L1029.86,1432.25 L1030.41,1435.31 L1030.96,1438.33 L1031.50,1441.30 L1032.05,1444.22 L1032.60,1447.10 L1033.15,1449.92 L1033.69,1452.70 L1034.24,1455.42 L1034.79,1458.09 L1035.33,1460.72 L1035.88,1463.29 L1036.43,1465.81 L1036.97,1468.28 L1037.52,1470.69 L1038.07,1473.05 L1038.62,1475.36 L1039.16,1477.62 L1039.71,1479.82 L1040.26,1481.97 L1040.80,1484.07 L1041.35,1486.11 L1041.90,1488.10 L1042.44,1490.04 L1042.99,1491.93 L1043.54,1493.76 L1044.08,1495.53 L1044.63,1497.26 L1045.18,1498.93 L1045.73,1500.55 L1046.27,1502.12 L1046.82,1503.64 L1047.37,1505.10 L1047.91,1506.52 L1048.46,1507.88 L1049.01,1509.19 L1049.55,1510.46 L1050.10,1511.67 L1050.65,1512.84 L1051.19,1513.96 L1051.74,1515.03 L1052.29,1516.05 L1052.84,1517.03 L1053.38,1517.96 L1053.93,1518.85 L1054.48,1519.69 L1055.02,1520.49 L1055.57,1521.25 L1056.12,1521.96 L1056.66,1522.64 L1057.21,1523.27 L1057.76,1523.87 L1058.30,1524.43 L1058.85,1524.95 L1059.40,1525.43 L1059.95,1525.88 L1060.49,1526.30 L1061.04,1526.69 L1061.59,1527.04 L1062.13,1527.36 L1062.68,1527.66 L1063.23,1527.92 L1063.77,1528.16 L1064.32,1528.38 L1064.87,1528.57 L1065.42,1528.74 L1065.96,1528.88 L1066.51,1529.01 L1067.06,1529.12 L1067.60,1529.21 L1068.15,1529.29 L1068.70,1529.35 L1069.24,1529.40 L1069.79,1529.43 L1070.34,1529.46 L1070.88,1529.48 L1071.43,1529.49 L1071.98,1529.50 L1072.53,1529.50 L1073.07,1529.50 L1073.62,1529.50 L1074.17,1529.50 L1074.71,1529.50 L1075.26,1529.49 L1075.81,1529.48 L1076.35,1529.46 L1076.90,1529.44 L1077.45,1529.40 L1077.99,1529.36 L1078.54,1529.30 L1079.09,1529.23 L1079.64,1529.15 L1080.18,1529.05 L1080.73,1528.93 L1081.28,1528.79 L1081.82,1528.64 L1082.37,1528.46 L1082.92,1528.26 L1083.46,1528.04 L1084.01,1527.79 L1084.56,1527.52 L1085.10,1527.21 L1085.65,1526.88 L1086.20,1526.52 L1086.75,1526.12 L1087.29,1525.69 L1087.84,1525.23 L1088.39,1524.73 L1088.93,1524.20 L1089.48,1523.62 L1090.03,1523.01 L1090.57,1522.36 L1091.12,1521.66 L1091.67,1520.92 L1092.22,1520.14 L1092.76,1519.31 L1093.31,1518.44 L1093.86,1517.52 L1094.40,1516.55 L1094.95,1515.53 L1095.50,1514.46 L1096.04,1513.34 L1096.59,1512.16 L1097.14,1510.94 L1097.68,1509.65 L1098.23,1508.32 L1098.78,1506.92 L1099.33,1505.47 L1099.87,1503.96 L1100.42,1502.39 L1100.97,1500.76 L1101.51,1499.07 L1102.06,1497.32 L1102.61,1495.51 L1103.15,1493.63 L1103.70,1491.69 L1104.25,1489.69 L1104.79,1487.62 L1105.34,1485.49 L1105.89,1483.29 L1106.44,1481.02 L1106.98,1478.69 L1107.53,1476.28 L1108.08,1473.81 L1108.62,1471.27 L1109.17,1468.67 L1109.72,1465.99 L1110.26,1463.24 L1110.81,1460.42 L1111.36,1457.54 L1111.90,1454.58 L1112.45,1451.55 L1113.00,1448.45 L1113.55,1445.27 L1114.09,1442.03 L1114.64,1438.72 L1115.19,1435.33 L1115.73,1431.87 L1116.28,1428.34 L1116.83,1424.74 L1117.37,1421.07 L1117.92,1417.33 L1118.47,1413.51 L1119.01,1409.63 L1119.56,1405.68 L1120.11,1401.65 L1120.66,1397.56 L1121.20,1393.40 L1121.75,1389.17 L1122.30,1384.87 L1122.84,1380.51 L1123.39,1376.08 L1123.94,1371.59 L1124.48,1367.03 L1125.03,1362.40 L1125.58,1357.72 L1126.13,1352.97 L1126.67,1348.16 L1127.22,1343.29 L1127.77,1338.37 L1128.31,1333.38 L1128.86,1328.34 L1129.41,1323.25 L1129.95,1318.10 L1130.50,1312.91 L1131.05,1307.66 L1131.59,1302.37 L1132.14,1297.02 L1132.69,1291.64 L1133.24,1286.21 L1133.78,1280.74 L1134.33,1275.23 L1134.88,1269.69 L1135.42,1264.11 L1135.97,1258.50 L1136.52,1252.85 L1137.06,1247.18 L1137.61,1241.49 L1138.16,1235.76 L1138.70,1230.02 L1139.25,1224.26 L1139.80,1218.48 L1140.35,1212.69 L1140.89,1206.89 L1141.44,1201.07 L1141.99,1195.25 L1142.53,1189.43 L1143.08,1183.60 L1143.63,1177.78 L1144.17,1171.96 L1144.72,1166.14 L1145.27,1160.34 L1145.81,1154.54 L1146.36,1148.76 L1146.91,1143.00 L1147.46,1137.25 L1148.00,1131.53 L1148.55,1125.83 L1149.10,1120.16 L1149.64,1114.52 L1150.19,1108.91 L1150.74,1103.33 L1151.28,1097.79 L1151.83,1092.29 L1152.38,1086.83 L1152.93,1081.41 L1153.47,1076.04 L1154.02,1070.72 L1154.57,1065.45 L1155.11,1060.22 L1155.66,1055.06 L1156.21,1049.95 L1156.75,1044.89 L1157.30,1039.90 L1157.85,1034.96 L1158.39,1030.09 L1158.94,1025.29 L1159.49,1020.55 L1160.04,1015.88 L1160.58,1011.28 L1161.13,1006.74 L1161.68,1002.28 L1162.22,997.89 L1162.77,993.58 L1163.32,989.34 L1163.86,985.18 L1164.41,981.09 L1164.96,977.08 L1165.50,973.15 L1166.05,969.30 L1166.60,965.53 L1167.15,961.84 L1167.69,958.24 L1168.24,954.71 L1168.79,951.27 L1169.33,947.91 L1169.88,944.63 L1170.43,941.44 L1170.97,938.33 L1171.52,935.30 L1172.07,932.36 L1172.61,929.51 L1173.16,926.74 L1173.71,924.06 L1174.26,921.46 L1174.80,918.94 L1175.35,916.52 L1175.90,914.18 L1176.44,911.92 L1176.99,909.76 L1177.54,907.68 L1178.08,905.68 L1178.63,903.78 L1179.18,901.96 L1179.72,900.22 L1180.27,898.71 L1180.82,898.71 L1181.37,898.71 L1181.91,898.71 L1182.46,898.71 L1183.01,898.71 L1183.55,898.71 L1184.10,898.71 L1184.65,898.71 L1185.19,898.71 L1185.74,898.71 L1186.29,898.71 L1186.84,898.71 L1187.38,898.71 L1187.93,898.71 L1188.48,898.71 L1189.02,898.71 L1189.57,898.71 L1190.12,898.71 L1190.66,898.71 L1191.21,898.71 L1191.76,898.71 L1192.30,898.71 L1192.85,898.71 L1193.40,898.71 L1193.95,898.71 L1194.49,898.71 L1195.04,898.71 L1195.59,898.71 L1196.13,898.71 L1196.68,898.71 L1197.23,898.71 L1197.77,898.71 L1198.32,898.71 L1198.87,899.50 L1199.41,901.40 L1199.96,903.41 L1200.51,905.53 L1201.06,907.78 L1201.60,910.14 L1202.15,912.61 L1202.70,915.20 L1203.24,917.91 L1203.79,920.73 L1204.34,923.67 L1204.88,926.73 L1205.43,929.90 L1205.98,933.19 L1206.52,936.59 L1207.07,940.11 L1207.62,943.74 L1208.17,947.48 L1208.71,951.34 L1209.26,955.31 L1209.81,959.39 L1210.35,963.57 L1210.90,967.87 L1211.45,972.27 L1211.99,976.78 L1212.54,981.40 L1213.09,986.11 L1213.64,990.93 L1214.18,995.84 L1214.73,1000.85 L1215.28,1005.95 L1215.82,1011.15 L1216.37,1016.43 L1216.92,1021.81 L1217.46,1027.26 L1218.01,1032.80 L1218.56,1038.42 L1219.10,1044.12 L1219.65,1049.88 L1220.20,1055.72 L1220.75,1061.63 L1221.29,1067.60 L1221.84,1073.63 L1222.39,1079.72 L1222.93,1085.87 L1223.48,1092.06 L1224.03,1098.30 L1224.57,1104.59 L1225.12,1110.92 L1225.67,1117.28 L1226.21,1123.68 L1226.76,1130.11 L1227.31,1136.57 L1227.86,1143.05 L1228.40,1149.55 L1228.95,1156.06 L1229.50,1162.59 L1230.04,1169.13 L1230.59,1175.67 L1231.14,1182.21 L1231.68,1188.75 L1232.23,1195.29 L1232.78,1201.82 L1233.32,1208.33 L1233.87,1214.84 L1234.42,1221.32 L1234.97,1227.78 L1235.51,1234.22 L1236.06,1240.63 L1236.61,1247.01 L1237.15,1253.35 L1237.70,1259.66 L1238.25,1265.93 L1238.79,1272.16 L1239.34,1278.34 L1239.89,1284.48 L1240.44,1290.57 L1240.98,1296.60 L1241.53,1302.58 L1242.08,1308.50 L1242.62,1314.37 L1243.17,1320.17 L1243.72,1325.91 L1244.26,1331.59 L1244.81,1337.20 L1245.36,1342.74 L1245.90,1348.21 L1246.45,1353.61 L1247.00,1358.93 L1247.55,1364.18 L1248.09,1369.35 L1248.64,1374.45 L1249.19,1379.47 L1249.73,1384.41 L1250.28,1389.26 L1250.83,1394.04 L1251.37,1398.73 L1251.92,1403.33 L1252.47,1407.86 L1253.01,1412.29 L1253.56,1416.65 L1254.11,1420.91 L1254.66,1425.09 L1255.20,1429.18 L1255.75,1433.18 L1256.30,1437.09 L1256.84,1440.91 L1257.39,1444.65 L1257.94,1448.29 L1258.48,1451.85 L1259.03,1455.31 L1259.58,1458.69 L1260.12,1461.98 L1260.67,1465.18 L1261.22,1468.28 L1261.77,1471.30 L1262.31,1474.24 L1262.86,1477.08 L1263.41,1479.83 L1263.95,1482.50 L1264.50,1485.08 L1265.05,1487.57 L1265.59,1489.98 L1266.14,1492.31 L1266.69,1494.54 L1267.23,1496.70 L1267.78,1498.77 L1268.33,1500.76 L1268.88,1502.67 L1269.42,1504.50 L1269.97,1506.25 L1270.52,1507.92 L1271.06,1509.51 L1271.61,1511.03 L1272.16,1512.47 L1272.70,1513.84 L1273.25,1515.14 L1273.80,1516.37 L1274.35,1517.53 L1274.89,1518.63 L1275.44,1519.65 L1275.99,1520.62 L1276.53,1521.52 L1277.08,1522.35 L1277.63,1523.13 L1278.17,1523.86 L1278.72,1524.53 L1279.27,1525.14 L1279.81,1525.70 L1280.36,1526.22 L1280.91,1526.68 L1281.46,1527.10 L1282.00,1527.48 L1282.55,1527.81 L1283.10,1528.11 L1283.64,1528.37 L1284.19,1528.60 L1284.74,1528.79 L1285.28,1528.96 L1285.83,1529.09 L1286.38,1529.20 L1286.92,1529.29 L1287.47,1529.36 L1288.02,1529.41 L1288.57,1529.45 L1289.11,1529.48 L1289.66,1529.49 L1290.21,1529.50 L1290.75,1529.50 L1291.30,1529.50 L1291.85,1529.50 L1292.39,1529.50 L1292.94,1529.49 L1293.49,1529.47 L1294.03,1529.44 L1294.58,1529.40 L1295.13,1529.34 L1295.68,1529.27 L1296.22,1529.17 L1296.77,1529.05 L1297.32,1528.91 L1297.86,1528.73 L1298.41,1528.53 L1298.96,1528.29 L1299.50,1528.01 L1300.05,1527.70 L1300.60,1527.34 L1301.15,1526.94 L1301.69,1526.50 L1302.24,1526.00 L1302.79,1525.46 L1303.33,1524.86 L1303.88,1524.20 L1304.43,1523.49 L1304.97,1522.72 L1305.52,1521.88 L1306.07,1520.98 L1306.61,1520.01 L1307.16,1518.96 L1307.71,1517.85 L1308.26,1516.66 L1308.80,1515.40 L1309.35,1514.06 L1309.90,1512.63 L1310.44,1511.12 L1310.99,1509.53 L1311.54,1507.85 L1312.08,1506.08 L1312.63,1504.22 L1313.18,1502.27 L1313.72,1500.22 L1314.27,1498.08 L1314.82,1495.84 L1315.37,1493.50 L1315.91,1491.05 L1316.46,1488.50 L1317.01,1485.85 L1317.55,1483.09 L1318.10,1480.23 L1318.65,1477.25 L1319.19,1474.16 L1319.74,1470.96 L1320.29,1467.65 L1320.83,1464.22 L1321.38,1460.68 L1321.93,1457.02 L1322.48,1453.24 L1323.02,1449.34 L1323.57,1445.32 L1324.12,1441.18 L1324.66,1436.92 L1325.21,1432.53 L1325.76,1428.02 L1326.30,1423.39 L1326.85,1418.63 L1327.40,1413.74 L1327.95,1408.73 L1328.49,1403.60 L1329.04,1398.33 L1329.59,1392.94 L1330.13,1387.42 L1330.68,1381.77 L1331.23,1375.99 L1331.77,1370.09 L1332.32,1364.06 L1332.87,1357.90 L1333.41,1351.61 L1333.96,1345.20 L1334.51,1338.66 L1335.06,1331.99 L1335.60,1325.20 L1336.15,1318.28 L1336.70,1311.24 L1337.24,1304.08 L1337.79,1296.79 L1338.34,1289.38 L1338.88,1281.86 L1339.43,1274.21 L1339.98,1266.45 L1340.52,1258.57 L1341.07,1250.58 L1341.62,1242.47 L1342.17,1234.26 L1342.71,1225.94 L1343.26,1217.51 L1343.81,1208.98 L1344.35,1200.35 L1344.90,1191.62 L1345.45,1182.79 L1345.99,1173.87 L1346.54,1164.86 L1347.09,1155.76 L1347.63,1146.58 L1348.18,1137.32 L1348.73,1127.98 L1349.28,1118.56 L1349.82,1109.07 L1350.37,1099.52 L1350.92,1089.91 L1351.46,1080.23 L1352.01,1070.50 L1352.56,1060.72 L1353.10,1050.89 L1353.65,1041.02 L1354.20,1031.11 L1354.74,1021.17 L1355.29,1011.20 L1355.84,1001.20 L1356.39,991.18 L1356.93,981.15 L1357.48,971.11 L1358.03,961.06 L1358.57,951.00 L1359.12,940.96 L1359.67,930.92 L1360.21,920.89 L1360.76,910.88 L1361.31,900.90 L1361.86,890.94 L1362.40,881.01 L1362.95,871.12 L1363.50,861.27 L1364.04,851.47 L1364.59,841.73 L1365.14,832.03 L1365.68,822.40 L1366.23,812.83 L1366.78,803.33 L1367.32,793.91 L1367.87,784.56 L1368.42,775.29 L1368.97,766.11 L1369.51,757.02 L1370.06,748.02 L1370.61,739.12 L1371.15,730.32 L1371.70,721.63 L1372.25,713.04 L1372.79,704.56 L1373.34,696.20 L1373.89,687.95 L1374.43,679.83 L1374.98,671.82 L1375.53,663.94 L1376.08,656.19 L1376.62,648.57 L1377.17,641.08 L1377.72,633.72 L1378.26,626.50 L1378.81,619.42 L1379.36,612.47 L1379.90,605.67 L1380.45,599.01 L1381.00,592.49 L1381.54,586.12 L1382.09,579.89 L1382.64,573.81 L1383.19,567.88 L1383.73,562.10 L1384.28,556.47 L1384.83,550.99 L1385.37,545.66 L1385.92,540.48 L1386.47,535.45 L1387.01,530.57 L1387.56,525.85 L1388.11,521.28 L1388.66,516.87 L1389.20,512.61 L1389.75,508.50 L1390.30,504.55 L1390.84,500.76 L1391.39,497.12 L1391.94,493.63 L1392.48,490.30 L1393.03,487.13 L1393.58,484.11 L1394.12,481.25 L1394.67,478.54 L1395.22,475.99 L1395.77,473.60 L1396.31,471.37 L1396.86,469.30 L1397.41,467.39 L1397.95,465.63 L1398.50,464.03 L1399.05,465.37 L1399.59,466.86 L1400.14,468.50 L1400.69,470.30 L1401.23,472.25 L1401.78,474.35 L1402.33,476.59 L1402.88,478.99 L1403.42,481.54 L1403.97,484.24 L1404.52,487.09 L1405.06,490.08 L1405.61,493.23 L1406.16,496.52 L1406.70,499.96 L1407.25,503.55 L1407.80,507.29 L1408.34,511.18 L1408.89,515.21 L1409.44,519.38 L1409.99,523.71 L1410.53,528.18 L1411.08,532.80 L1411.63,537.56 L1412.17,542.47 L1412.72,547.52 L1413.27,552.71 L1413.81,558.05 L1414.36,563.54 L1414.91,569.16 L1415.46,574.93 L1416.00,580.84 L1416.55,586.88 L1417.10,593.07 L1417.64,599.40 L1418.19,605.86 L1418.74,612.45 L1419.28,619.19 L1419.83,626.05 L1420.38,633.05 L1420.92,640.17 L1421.47,647.42 L1422.02,654.80 L1422.57,662.31 L1423.11,669.93 L1423.66,677.68 L1424.21,685.54 L1424.75,693.52 L1425.30,701.61 L1425.85,709.81 L1426.39,718.12 L1426.94,726.53 L1427.49,735.04 L1428.03,743.65 L1428.58,752.36 L1429.13,761.15 L1429.68,770.04 L1430.22,779.01 L1430.77,788.06 L1431.32,797.18 L1431.86,806.38 L1432.41,815.65 L1432.96,824.98 L1433.50,834.38 L1434.05,843.83 L1434.60,853.34 L1435.14,862.89 L1435.69,872.49 L1436.24,882.13 L1436.79,891.80 L1437.33,901.50 L1437.88,911.23 L1438.43,920.99 L1438.97,930.76 L1439.52,940.54 L1440.07,950.33 L1440.61,960.13 L1441.16,969.92 L1441.71,979.72 L1442.26,989.50 L1442.80,999.27 L1443.35,1009.02 L1443.90,1018.74 L1444.44,1028.45 L1444.99,1038.12 L1445.54,1047.75 L1446.08,1057.35 L1446.63,1066.90 L1447.18,1076.41 L1447.72,1085.87 L1448.27,1095.27 L1448.82,1104.62 L1449.37,1113.90 L1449.91,1123.12 L1450.46,1132.26 L1451.01,1141.34 L1451.55,1150.34 L1452.10,1159.27 L1452.65,1168.11 L1453.19,1176.87 L1453.74,1185.54 L1454.29,1194.12 L1454.83,1202.61 L1455.38,1211.01 L1455.93,1219.31 L1456.48,1227.51 L1457.02,1235.61 L1457.57,1243.61 L1458.12,1251.50 L1458.66,1259.28 L1459.21,1266.96 L1459.76,1274.53 L1460.30,1281.98 L1460.85,1289.32 L1461.40,1296.55 L1461.94,1303.67 L1462.49,1310.66 L1463.04,1317.54 L1463.59,1324.31 L1464.13,1330.95 L1464.68,1337.47 L1465.23,1343.88 L1465.77,1350.16 L1466.32,1356.33 L1466.87,1362.37 L1467.41,1368.29 L1467.96,1374.09 L1468.51,1379.76 L1469.05,1385.32 L1469.60,1390.75 L1470.15,1396.06 L1470.70,1401.25 L1471.24,1406.32 L1471.79,1411.27 L1472.34,1416.10 L1472.88,1420.81 L1473.43,1425.39 L1473.98,1429.86 L1474.52,1434.22 L1475.07,1438.45 L1475.62,1442.57 L1476.17,1446.57 L1476.71,1450.45 L1477.26,1454.22 L1477.81,1457.88 L1478.35,1461.43 L1478.90,1464.86 L1479.45,1468.19 L1479.99,1471.40 L1480.54,1474.51 L1481.09,1477.51 L1481.63,1480.40 L1482.18,1483.19 L1482.73,1485.88 L1483.28,1488.47 L1483.82,1490.96 L1484.37,1493.35 L1484.92,1495.64 L1485.46,1497.83 L1486.01,1499.94 L1486.56,1501.95 L1487.10,1503.87 L1487.65,1505.70 L1488.20,1507.44 L1488.74,1509.10 L1489.29,1510.68 L1489.84,1512.17 L1490.39,1513.59 L1490.93,1514.92 L1491.48,1516.19 L1492.03,1517.37 L1492.57,1518.49 L1493.12,1519.54 L1493.67,1520.51 L1494.21,1521.43 L1494.76,1522.28 L1495.31,1523.07 L1495.85,1523.79 L1496.40,1524.47 L1496.95,1525.08 L1497.50,1525.65 L1498.04,1526.16 L1498.59,1526.63 L1499.14,1527.05 L1499.68,1527.43 L1500.23,1527.77 L1500.78,1528.07 L1501.32,1528.33 L1501.87,1528.56 L1502.42,1528.75 L1502.97,1528.92 L1503.51,1529.06 L1504.06,1529.18 L1504.61,1529.27 L1505.15,1529.34 L1505.70,1529.40 L1506.25,1529.44 L1506.79,1529.47 L1507.34,1529.48 L1507.89,1529.49 L1508.43,1529.50 L1508.98,1529.50 L1509.53,1529.50 L1510.08,1529.50 L1510.62,1529.49 L1511.17,1529.48 L1511.72,1529.46 L1512.26,1529.43 L1512.81,1529.38 L1513.36,1529.32 L1513.90,1529.23 L1514.45,1529.13 L1515.00,1529.00 L1515.54,1528.85 L1516.09,1528.67 L1516.64,1528.46 L1517.19,1528.21 L1517.73,1527.94 L1518.28,1527.62 L1518.83,1527.26 L1519.37,1526.87 L1519.92,1526.43 L1520.47,1525.94 L1521.01,1525.41 L1521.56,1524.83 L1522.11,1524.19 L1522.65,1523.51 L1523.20,1522.77 L1523.75,1521.97 L1524.30,1521.11 L1524.84,1520.19 L1525.39,1519.22 L1525.94,1518.17 L1526.48,1517.07 L1527.03,1515.90 L1527.58,1514.66 L1528.12,1513.35 L1528.67,1511.97 L1529.22,1510.52 L1529.76,1508.99 L1530.31,1507.39 L1530.86,1505.72 L1531.41,1503.97 L1531.95,1502.14 L1532.50,1500.24 L1533.05,1498.25 L1533.59,1496.19 L1534.14,1494.04 L1534.69,1491.82 L1535.23,1489.51 L1535.78,1487.11 L1536.33,1484.64 L1536.88,1482.08 L1537.42,1479.43 L1537.97,1476.70 L1538.52,1473.88 L1539.06,1470.98 L1539.61,1467.99 L1540.16,1464.92 L1540.70,1461.76 L1541.25,1458.51 L1541.80,1455.18 L1542.34,1451.75 L1542.89,1448.24 L1543.44,1444.65 L1543.99,1440.97 L1544.53,1437.20 L1545.08,1433.34 L1545.63,1429.40 L1546.17,1425.37 L1546.72,1421.26 L1547.27,1417.06 L1547.81,1412.78 L1548.36,1408.42 L1548.91,1403.97 L1549.45,1399.44 L1550.00,1394.83 L1550.55,1390.14 L1551.10,1385.37 L1551.64,1380.52 L1552.19,1375.59 L1552.74,1370.59 L1553.28,1365.51 L1553.83,1360.36 L1554.38,1355.13 L1554.92,1349.83 L1555.47,1344.47 L1556.02,1339.03 L1556.56,1333.53 L1557.11,1327.97 L1557.66,1322.34 L1558.21,1316.65 L1558.75,1310.90 L1559.30,1305.09 L1559.85,1299.23 L1560.39,1293.31 L1560.94,1287.35 L1561.49,1281.34 L1562.03,1275.28 L1562.58,1269.17 L1563.13,1263.03 L1563.68,1256.85 L1564.22,1250.63 L1564.77,1244.38 L1565.32,1238.10 L1565.86,1231.79 L1566.41,1225.45 L1566.96,1219.10 L1567.50,1212.73 L1568.05,1206.34 L1568.60,1199.94 L1569.14,1193.53 L1569.69,1187.12 L1570.24,1180.70 L1570.79,1174.29 L1571.33,1167.88 L1571.88,1161.48 L1572.43,1155.09 L1572.97,1148.71 L1573.52,1142.35 L1574.07,1136.01 L1574.61,1129.70 L1575.16,1123.42 L1575.71,1117.17 L1576.25,1110.95 L1576.80,1104.77 L1577.35,1098.63 L1577.90,1092.54 L1578.44,1086.50 L1578.99,1080.51 L1579.54,1074.58 L1580.08,1068.70 L1580.63,1062.88 L1581.18,1057.13 L1581.72,1051.45 L1582.27,1045.83 L1582.82,1040.29 L1583.36,1034.83 L1583.91,1029.44 L1584.46,1024.13 L1585.01,1018.91 L1585.55,1013.77 L1586.10,1008.73 L1586.65,1003.77 L1587.19,998.90 L1587.74,994.13 L1588.29,989.46 L1588.83,984.88 L1589.38,980.41 L1589.93,976.03 L1590.48,971.76 L1591.02,967.59 L1591.57,963.53 L1592.12,959.58 L1592.66,955.73 L1593.21,951.99 L1593.76,948.37 L1594.30,944.85 L1594.85,941.44 L1595.40,938.15 L1595.94,934.96 L1596.49,931.89 L1597.04,928.94 L1597.59,926.09 L1598.13,923.36 L1598.68,920.74 L1599.23,918.23 L1599.77,915.84 L1600.32,913.56 L1600.87,911.39 L1601.41,909.34 L1601.96,907.39 L1602.51,905.56 L1603.05,903.84 L1603.60,902.23 L1604.15,900.73 L1604.70,899.34 L1605.24,898.06 L1605.79,896.88 L1606.34,895.82 L1606.88,894.86 L1607.43,894.01 L1607.98,893.26 L1608.52,892.62 L1609.07,892.09 L1609.62,891.66 L1610.16,891.33 L1610.71,891.10 L1611.26,890.98 L1611.81,890.96 L1612.35,891.04 L1612.90,891.22 L1613.45,891.51 L1613.99,891.89 L1614.54,892.37 L1615.09,892.94 L1615.63,893.61 L1616.18,894.38 L1616.73,895.24 L1617.28,896.20 L1617.82,897.25 L1618.37,898.39 L1618.92,899.63 L1619.46,900.96 L1620.01,902.38 L1620.56,903.90 L1621.10,905.51 L1621.65,907.21 L1622.20,909.01 L1622.74,910.90 L1623.29,912.87 L1623.84,914.94 L1624.39,917.11 L1624.93,919.36 L1625.48,921.71 L1626.03,924.14 L1626.57,926.67 L1627.12,929.29 L1627.67,932.00 L1628.21,934.80 L1628.76,937.69 L1629.31,940.67 L1629.85,943.74 L1630.40,946.90 L1630.95,950.15 L1631.50,953.48 L1632.04,956.91 L1632.59,960.42 L1633.14,964.02 L1633.68,967.71 L1634.23,971.48 L1634.78,975.34 L1635.32,979.29 L1635.87,983.32 L1636.42,987.43 L1636.96,991.62 L1637.51,995.89 L1638.06,1000.25 L1638.61,1004.68 L1639.15,1009.19 L1639.70,1013.78 L1640.25,1018.44 L1640.79,1023.18 L1641.34,1027.99 L1641.89,1032.87 L1642.43,1037.82 L1642.98,1042.84 L1643.53,1047.92 L1644.07,1053.06 L1644.62,1058.27 L1645.17,1063.54 L1645.72,1068.86 L1646.26,1074.24 L1646.81,1079.68 L1647.36,1085.16 L1647.90,1090.70 L1648.45,1096.27 L1649.00,1101.90 L1649.54,1107.56 L1650.09,1113.26 L1650.64,1119.00 L1651.19,1124.78 L1651.73,1130.58 L1652.28,1136.41 L1652.83,1142.27 L1653.37,1148.14 L1653.92,1154.04 L1654.47,1159.96 L1655.01,1165.89 L1655.56,1171.83 L1656.11,1177.78 L1656.65,1183.73 L1657.20,1189.69 L1657.75,1195.64 L1658.30,1201.60 L1658.84,1207.55 L1659.39,1213.49 L1659.94,1219.41 L1660.48,1225.33 L1661.03,1231.23 L1661.58,1237.10 L1662.12,1242.96 L1662.67,1248.79 L1663.22,1254.60 L1663.76,1260.37 L1664.31,1266.12 L1664.86,1271.83 L1665.41,1277.50 L1665.95,1283.13 L1666.50,1288.73 L1667.05,1294.27 L1667.59,1299.78 L1668.14,1305.24 L1668.69,1310.65 L1669.23,1316.00 L1669.78,1321.31 L1670.33,1326.56 L1670.87,1331.75 L1671.42,1336.89 L1671.97,1341.97 L1672.52,1346.98 L1673.06,1351.94 L1673.61,1356.83 L1674.16,1361.65 L1674.70,1366.42 L1675.25,1371.11 L1675.80,1375.74 L1676.34,1380.30 L1676.89,1384.78 L1677.44,1389.20 L1677.99,1393.55 L1678.53,1397.82 L1679.08,1402.03 L1679.63,1406.16 L1680.17,1410.21 L1680.72,1414.20 L1681.27,1418.11 L1681.81,1421.94 L1682.36,1425.70 L1682.91,1429.38 L1683.45,1432.99 L1684.00,1436.52 L1684.55,1439.98 L1685.10,1443.36 L1685.64,1446.67 L1686.19,1449.90 L1686.74,1453.06 L1687.28,1456.14 L1687.83,1459.14 L1688.38,1462.08 L1688.92,1464.93 L1689.47,1467.72 L1690.02,1470.42 L1690.56,1473.06 L1691.11,1475.62 L1691.66,1478.12 L1692.21,1480.53 L1692.75,1482.88 L1693.30,1485.16 L1693.85,1487.37 L1694.39,1489.50 L1694.94,1491.57 L1695.49,1493.57 L1696.03,1495.51 L1696.58,1497.37 L1697.13,1499.17 L1697.67,1500.91 L1698.22,1502.58 L1698.77,1504.19 L1699.32,1505.73 L1699.86,1507.22 L1700.41,1508.64 L1700.96,1510.00 L1701.50,1511.31 L1702.05,1512.56 L1702.60,1513.75 L1703.14,1514.88 L1703.69,1515.96 L1704.24,1516.99 L1704.79,1517.97 L1705.33,1518.89 L1705.88,1519.77 L1706.43,1520.60 L1706.97,1521.37 L1707.52,1522.11 L1708.07,1522.80 L1708.61,1523.44 L1709.16,1524.04 L1709.71,1524.61 L1710.25,1525.13 L1710.80,1525.61 L1711.35,1526.06 L1711.90,1526.47 L1712.44,1526.85 L1712.99,1527.19 L1713.54,1527.51 L1714.08,1527.79 L1714.63,1528.05 L1715.18,1528.28 L1715.72,1528.48 L1716.27,1528.66 L1716.82,1528.82 L1717.36,1528.95 L1717.91,1529.07 L1718.46,1529.17 L1719.01,1529.25 L1719.55,1529.32 L1720.10,1529.37 L1720.65,1529.42 L1721.19,1529.45 L1721.74,1529.47 L1722.29,1529.48 L1722.83,1529.49 L1723.38,1529.50 L1723.93,1529.50 L1724.47,1529.50 L1725.02,1529.50 L1725.57,1529.50 L1726.12,1529.49 L1726.66,1529.48 L1727.21,1529.47 L1727.76,1529.45 L1728.30,1529.41 L1728.85,1529.37 L1729.40,1529.32 L1729.94,1529.25 L1730.49,1529.17 L1731.04,1529.07 L1731.58,1528.95 L1732.13,1528.82 L1732.68,1528.66 L1733.23,1528.49 L1733.77,1528.29 L1734.32,1528.06 L1734.87,1527.81 L1735.41,1527.54 L1735.96,1527.24 L1736.51,1526.90 L1737.05,1526.54 L1737.60,1526.15 L1738.15,1525.72 L1738.70,1525.26 L1739.24,1524.77 L1739.79,1524.24 L1740.34,1523.67 L1740.88,1523.07 L1741.43,1522.43 L1741.98,1521.75 L1742.52,1521.03 L1743.07,1520.26 L1743.62,1519.46 L1744.16,1518.61 L1744.71,1517.72 L1745.26,1516.79 L1745.81,1515.81 L1746.35,1514.78 L1746.90,1513.71 L1747.45,1512.60 L1747.99,1511.43 L1748.54,1510.22 L1749.09,1508.96 L1749.63,1507.65 L1750.18,1506.29 L1750.73,1504.88 L1751.27,1503.42 L1751.82,1501.91 L1752.37,1500.35 L1752.92,1498.74 L1753.46,1497.08 L1754.01,1495.37 L1754.56,1493.60 L1755.10,1491.78 L1755.65,1489.91 L1756.20,1487.99 L1756.74,1486.02 L1757.29,1483.99 L1757.84,1481.91 L1758.38,1479.78 L1758.93,1477.60 L1759.48,1475.37 L1760.03,1473.08 L1760.57,1470.74 L1761.12,1468.35 L1761.67,1465.91 L1762.21,1463.42 L1762.76,1460.88 L1763.31,1458.28 L1763.85,1455.64 L1764.40,1452.95 L1764.95,1450.20 L1765.50,1447.41 L1766.04,1444.57 L1766.59,1441.69 L1767.14,1438.75 L1767.68,1435.77 L1768.23,1432.75 L1768.78,1429.68 L1769.32,1426.56 L1769.87,1423.41 L1770.42,1420.21 L1770.96,1416.97 L1771.51,1413.68 L1772.06,1410.36 L1772.61,1407.00 L1773.15,1403.61 L1773.70,1400.17 L1774.25,1396.70 L1774.79,1393.20 L1775.34,1389.67 L1775.89,1386.10 L1776.43,1382.51 L1776.98,1378.88 L1777.53,1375.23 L1778.07,1371.56 L1778.62,1367.86 L1779.17,1364.13 L1779.72,1360.39 L1780.26,1356.63 L1780.81,1353.04 L1781.36,1350.18 L1781.90,1347.31 L1782.45,1344.43 L1783.00,1341.56 L1783.54,1338.67 L1784.09,1335.79 L1784.64,1332.90 L1785.18,1330.01 L1785.73,1327.12 L1786.28,1324.23 L1786.83,1321.34 L1787.37,1318.45 L1787.92,1315.57 L1788.47,1312.69 L1789.01,1309.81 L1789.56,1306.94 L1790.11,1304.08 L1790.65,1301.22 L1791.20,1298.38 L1791.75,1295.54 L1792.29,1292.71 L1792.84,1289.89 L1793.39,1287.09 L1793.94,1284.30 L1794.48,1281.52 L1795.03,1278.76 L1795.58,1276.02 L1796.12,1273.29 L1796.67,1270.58 L1797.22,1267.88 L1797.76,1265.21 L1798.31,1262.55 L1798.86,1259.92 L1799.41,1257.31 L1799.95,1254.72 L1800.50,1252.16 L1801.05,1249.62 L1801.59,1247.10 L1802.14,1244.62 L1802.69,1242.15 L1803.23,1239.72 L1803.78,1237.31 L1804.33,1234.93 L1804.87,1232.58 L1805.42,1230.27 L1805.97,1227.98 L1806.52,1225.72 L1807.06,1223.50 L1807.61,1221.31 L1808.16,1219.15 L1808.70,1217.02 L1809.25,1214.93 L1809.80,1212.87 L1810.34,1210.85 L1810.89,1208.87 L1811.44,1206.92 L1811.98,1205.01 L1812.53,1203.13 L1813.08,1201.29 L1813.63,1199.49 L1814.17,1197.72 L1814.72,1196.00 L1815.27,1194.31 L1815.81,1192.66 L1816.36,1191.05 L1816.91,1189.48 L1817.45,1187.95 L1818.00,1186.46 L1818.55,1185.00 L1819.09,1183.59 L1819.64,1182.22 L1820.19,1180.88 L1820.74,1179.59 L1821.28,1178.34 L1821.83,1177.12 L1822.38,1175.95 L1822.92,1174.81 L1823.47,1173.72 L1824.02,1172.66 L1824.56,1171.65 L1825.11,1170.68 L1825.66,1169.74 L1826.21,1168.85 L1826.75,1167.99 L1827.30,1167.17 L1827.85,1166.40 L1828.39,1165.66 L1828.94,1164.96 L1829.49,1164.30 L1830.03,1163.68 L1830.58,1163.09 L1831.13,1162.55 L1831.67,1162.04 L1832.22,1161.57 L1832.77,1161.14 L1833.32,1160.75 L1833.86,1160.39 L1834.41,1160.08 L1834.96,1159.79 L1835.50,1159.55 L1836.05,1159.34 L1836.60,1159.17 L1837.14,1159.03 L1837.69,1158.93 L1838.24,1158.87 L1838.78,1158.84 L1839.33,1158.85 L1839.88,1158.89 L1840.43,1158.97 L1840.97,1159.08 L1841.52,1159.23 L1842.07,1159.31 L1842.61,1159.41 L1843.16,1159.60 L1843.71,1159.86 L1844.25,1160.21 L1844.80,1160.64 L1845.35,1161.15 L1845.89,1161.75 L1846.44,1162.42 L1846.99,1163.18 L1847.54,1164.02 L1848.08,1164.94 L1848.63,1165.94 L1849.18,1167.02 L1849.72,1168.18 L1850.27,1169.42 L1850.82,1170.74 L1851.36,1172.14 L1851.91,1173.62 L1852.46,1175.18 L1853.01,1176.82 L1853.55,1178.54 L1854.10,1180.34 L1854.65,1182.22 L1855.19,1184.18 L1855.74,1186.22 L1856.29,1188.33 L1856.83,1190.53 L1857.38,1192.80 L1857.93,1195.15 L1858.47,1197.58 L1859.02,1200.08 L1859.57,1202.66 L1860.12,1205.32 L1860.66,1208.05 L1861.21,1210.85 L1861.76,1213.73 L1862.30,1216.68 L1862.85,1219.71 L1863.40,1222.80 L1863.94,1225.96 L1864.49,1229.19 L1865.04,1232.49 L1865.58,1235.85 L1866.13,1239.27 L1866.68,1242.76 L1867.23,1246.30 L1867.77,1249.90 L1868.32,1253.56 L1868.87,1257.27 L1869.41,1261.03 L1869.96,1264.84 L1870.51,1268.70 L1871.05,1272.60 L1871.60,1276.55 L1872.15,1280.53 L1872.69,1284.55 L1873.24,1288.60 L1873.79,1292.68 L1874.34,1296.79 L1874.88,1300.93 L1875.43,1305.09 L1875.98,1309.26 L1876.52,1313.46 L1877.07,1317.66 L1877.62,1321.88 L1878.16,1326.10 L1878.71,1330.33 L1879.26,1334.56 L1879.81,1338.79 L1880.35,1343.01 L1880.90,1347.22 L1881.45,1351.43 L1881.99,1355.62 L1882.54,1359.79 L1883.09,1363.95 L1883.63,1367.15 L1884.18,1370.34 L1884.73,1373.52 L1885.27,1376.67 L1885.82,1379.81 L1886.37,1382.92 L1886.92,1386.02 L1887.46,1389.09 L1888.01,1392.14 L1888.56,1395.16 L1889.10,1398.16 L1889.65,1401.14 L1890.20,1404.08 L1890.74,1407.00 L1891.29,1409.89 L1891.84,1412.75 L1892.38,1415.58 L1892.93,1418.38 L1893.48,1421.15 L1894.03,1423.89 L1894.57,1426.59 L1895.12,1429.27 L1895.67,1431.90 L1896.21,1434.51 L1896.76,1437.07 L1897.31,1439.61 L1897.85,1442.10 L1898.40,1444.57 L1898.95,1446.99 L1899.49,1449.38 L1900.04,1451.73 L1900.59,1454.05 L1901.14,1456.32 L1901.68,1458.56 L1902.23,1460.76 L1902.78,1462.92 L1903.32,1465.05 L1903.87,1467.13 L1904.42,1469.18 L1904.96,1471.19 L1905.51,1473.16 L1906.06,1475.09 L1906.60,1476.98 L1907.15,1478.83 L1907.70,1480.65 L1908.25,1482.42 L1908.79,1484.16 L1909.34,1485.86 L1909.89,1487.52 L1910.43,1489.14 L1910.98,1490.73 L1911.53,1492.27 L1912.07,1493.78 L1912.62,1495.25 L1913.17,1496.68 L1913.72,1498.08 L1914.26,1499.44 L1914.81,1500.76 L1915.36,1502.05 L1915.90,1503.30 L1916.45,1504.51 L1917.00,1505.69 L1917.54,1506.83 L1918.09,1507.94 L1918.64,1509.01 L1919.18,1510.05 L1919.73,1511.06 L1920.28,1512.03 L1920.83,1512.97 L1921.37,1513.87 L1921.92,1514.75 L1922.47,1515.59 L1923.01,1516.40 L1923.56,1517.18 L1924.11,1517.93 L1924.65,1518.65 L1925.20,1519.34 L1925.75,1520.00 L1926.29,1520.63 L1926.84,1521.24 L1927.39,1521.81 L1927.94,1522.36 L1928.48,1522.89 L1929.03,1523.39 L1929.58,1523.86 L1930.12,1524.31 L1930.67,1524.73 L1931.22,1525.13 L1931.76,1525.51 L1932.31,1525.87 L1932.86,1526.20 L1933.40,1526.52 L1933.95,1526.81 L1934.50,1527.08 L1935.05,1527.34 L1935.59,1527.57 L1936.14,1527.79 L1936.69,1527.99 L1937.23,1528.18 L1937.78,1528.35 L1938.33,1528.50 L1938.87,1528.64 L1939.42,1528.77 L1939.97,1528.88 L1940.52,1528.98 L1941.06,1529.07 L1941.61,1529.15 L1942.16,1529.22 L1942.70,1529.28 L1943.25,1529.33 L1943.80,1529.37 L1944.34,1529.40 L1944.89,1529.43 L1945.44,1529.45 L1945.98,1529.47 L1946.53,1529.48 L1947.08,1529.49 L1947.63,1529.50 L1948.17,1529.50 L1948.72,1529.50 L1949.27,1529.50 L1949.81,1529.50 L1950.36,1529.50 L1950.91,1529.50 L1951.45,1529.49 L1952.00,1529.49 L1952.55,1529.47 L1953.09,1529.46 L1953.64,1529.43 L1954.19,1529.41 L1954.74,1529.37 L1955.28,1529.32 L1955.83,1529.27 L1956.38,1529.20 L1956.92,1529.13 L1957.47,1529.04 L1958.02,1528.94 L1958.56,1528.83 L1959.11,1528.70 L1959.66,1528.56 L1960.20,1528.40 L1960.75,1528.23 L1961.30,1528.04 L1961.85,1527.83 L1962.39,1527.60 L1962.94,1527.36 L1963.49,1527.09 L1964.03,1526.81 L1964.58,1526.50 L1965.13,1526.17 L1965.67,1525.82 L1966.22,1525.45 L1966.77,1525.05 L1967.31,1524.63 L1967.86,1524.19 L1968.41,1523.72 L1968.96,1523.22 L1969.50,1522.70 L1970.05,1522.16 L1970.60,1521.59 L1971.14,1520.99 L1971.69,1520.36 L1972.24,1519.71 L1972.78,1519.02 L1973.33,1518.31 L1973.88,1517.57 L1974.43,1516.80 L1974.97,1516.01 L1975.52,1515.18 L1976.07,1514.32 L1976.61,1513.44 L1977.16,1512.52 L1977.71,1511.57 L1978.25,1510.59 L1978.80,1509.59 L1979.35,1508.55 L1979.89,1507.48 L1980.44,1506.38 L1980.99,1505.24 L1981.54,1504.08 L1982.08,1502.89 L1982.63,1501.66 L1983.18,1500.41 L1983.72,1499.12 L1984.27,1497.80 L1984.82,1496.45 L1985.36,1495.07 L1985.91,1493.66 L1986.46,1492.22 L1987.00,1490.75 L1987.55,1489.25 L1988.10,1487.72 L1988.65,1486.16 L1989.19,1484.57 L1989.74,1482.95 L1990.29,1481.30 L1990.83,1479.62 L1991.38,1477.92 L1991.93,1476.19 L1992.47,1474.43 L1993.02,1472.64 L1993.57,1470.82 L1994.11,1468.98 L1994.66,1467.12 L1995.21,1465.23 L1995.76,1463.31 L1996.30,1461.37 L1996.85,1459.41 L1997.40,1457.42 L1997.94,1455.41 L1998.49,1453.38 L1999.04,1451.33 L1999.58,1449.26 L2000.13,1447.17 L2000.68,1445.06 L2001.23,1442.94 L2001.77,1440.80 L2002.32,1438.64 L2002.87,1436.47 L2003.41,1434.28 L2003.96,1432.08 L2004.51,1429.87 L2005.05,1427.64 L2005.60,1425.41 L2006.15,1423.17 L2006.69,1420.92 L2007.24,1418.66 L2007.79,1416.40 L2008.34,1414.13 L2008.88,1411.86 L2009.43,1409.59 L2009.98,1407.32 L2010.52,1405.04 L2011.07,1402.77 L2011.62,1400.50 L2012.16,1398.23 L2012.71,1395.97 L2013.26,1393.72 L2013.80,1391.47 L2014.35,1389.23 L2014.90,1387.00 L2015.45,1384.78 L2015.99,1382.58 L2016.54,1380.39 L2017.09,1378.21 L2017.63,1376.05 L2018.18,1373.91 L2018.73,1371.78 L2019.27,1369.68 L2019.82,1367.59 L2020.37,1365.53 L2020.91,1363.49 L2021.46,1361.47 L2022.01,1359.48 L2022.56,1357.51 L2023.10,1355.57 L2023.65,1353.66 L2024.20,1351.78 L2024.74,1349.93 L2025.29,1348.11 L2025.84,1346.32 L2026.38,1344.56 L2026.93,1342.84 L2027.48,1341.15 L2028.03,1339.49 L2028.57,1337.87 L2029.12,1336.28 L2029.67,1334.74 L2030.21,1333.22 L2030.76,1331.75 L2031.31,1330.31 L2031.85,1328.91 L2032.40,1327.55 L2032.95,1326.23 L2033.49,1324.95 L2034.04,1323.70 L2034.59,1322.50 L2035.14,1321.34 L2035.68,1320.21 L2036.23,1319.13 L2036.78,1318.09 L2037.32,1317.09 L2037.87,1316.12 L2038.42,1315.20 L2038.96,1314.32 L2039.51,1313.48 L2040.06,1312.68 L2040.60,1311.92 L2041.15,1311.19 L2041.70,1310.51 L2042.25,1309.87 L2042.79,1309.27 L2043.34,1308.71 L2043.89,1308.18 L2044.43,1307.70 L2044.98,1307.26 L2045.53,1306.85 L2046.07,1306.48 L2046.62,1306.15 L2047.17,1305.86 L2047.71,1305.61 L2048.26,1305.39 L2048.81,1305.21 L2049.36,1305.07 L2049.90,1304.96 L2050.45,1304.89 L2051.00,1304.86 L2051.54,1304.87 L2052.09,1304.91 L2052.64,1304.99 L2053.18,1305.11 L2053.73,1305.26 L2054.28,1305.44 L2054.82,1305.66 L2055.37,1305.90 L2055.92,1306.18 L2056.47,1306.49 L2057.01,1306.83 L2057.56,1307.20 L2058.11,1307.60 L2058.65,1308.04 L2059.20,1308.50 L2059.75,1309.00 L2060.29,1309.53 L2060.84,1310.09 L2061.39,1310.67 L2061.94,1311.29 L2062.48,1311.95 L2063.03,1312.63 L2063.58,1313.34 L2064.12,1314.08 L2064.67,1314.85 L2065.22,1315.66 L2065.76,1316.49 L2066.31,1317.36 L2066.86,1318.25 L2067.40,1319.17 L2067.95,1320.13 L2068.50,1321.11 L2069.05,1322.13 L2069.59,1323.17 L2070.14,1324.25 L2070.69,1325.35 L2071.23,1326.49 L2071.78,1327.65 L2072.33,1328.84 L2072.87,1330.06 L2073.42,1331.31 L2073.97,1332.59 L2074.51,1333.90 L2075.06,1335.24 L2075.61,1336.60 L2076.16,1337.99 L2076.70,1339.41 L2077.25,1340.86 L2077.80,1342.33 L2078.34,1343.83 L2078.89,1345.36 L2079.44,1346.91 L2079.98,1348.49 L2080.53,1350.09 L2081.08,1351.72 L2081.62,1353.37 L2082.17,1355.04 L2082.72,1356.74 L2083.27,1358.46 L2083.81,1360.20 L2084.36,1361.96 L2084.91,1363.75 L2085.45,1365.55 L2086.00,1367.37 L2086.55,1369.21 L2087.09,1371.07 L2087.64,1372.95 L2088.19,1374.84 L2088.74,1376.75 L2089.28,1378.67 L2089.83,1380.60 L2090.38,1382.55 L2090.92,1384.51 L2091.47,1386.49 L2092.02,1388.47 L2092.56,1390.46 L2093.11,1392.46 L2093.66,1394.47 L2094.20,1396.49 L2094.75,1398.51 L2095.30,1400.54 L2095.85,1402.57 L2096.39,1404.61 L2096.94,1406.64 L2097.49,1408.68 L2098.03,1410.72 L2098.58,1412.76 L2099.13,1414.80 L2099.67,1416.84 L2100.22,1418.87 L2100.77,1420.90 L2101.31,1422.92 L2101.86,1424.94 L2102.41,1426.95 L2102.96,1428.95 L2103.50,1430.95 L2104.05,1432.94 L2104.60,1434.91 L2105.14,1436.88 L2105.69,1438.83 L2106.24,1440.77 L2106.78,1442.70 L2107.33,1444.62 L2107.88,1446.52 L2108.42,1448.41 L2108.97,1450.28 L2109.52,1452.13 L2110.07,1453.97 L2110.61,1455.79 L2111.16,1457.60 L2111.71,1459.38 L2112.25,1461.14 L2112.80,1462.89 L2113.35,1464.61 L2113.89,1466.32 L2114.44,1468.00 L2114.99,1469.67 L2115.54,1471.31 L2116.08,1472.93 L2116.63,1474.52 L2117.18,1476.10 L2117.72,1477.65 L2118.27,1479.17 L2118.82,1480.68 L2119.36,1482.16 L2119.91,1483.61 L2120.46,1485.04 L2121.00,1486.45 L2121.55,1487.83 L2122.10,1489.19 L2122.65,1490.53 L2123.19,1491.84 L2123.74,1493.12 L2124.29,1494.38 L2124.83,1495.61 L2125.38,1496.82 L2125.93,1498.00 L2126.47,1499.16 L2127.02,1500.29 L2127.57,1501.40 L2128.11,1502.48 L2128.66,1503.54 L2129.21,1504.57 L2129.76,1505.58 L2130.30,1506.57 L2130.85,1507.52 L2131.40,1508.46 L2131.94,1509.37 L2132.49,1510.25 L2133.04,1511.11 L2133.58,1511.95 L2134.13,1512.76 L2134.68,1513.55 L2135.22,1514.32 L2135.77,1515.06 L2136.32,1515.78 L2136.87,1516.48 L2137.41,1517.15 L2137.96,1517.80 L2138.51,1518.43 L2139.05,1519.04 L2139.60,1519.63 L2140.15,1520.19 L2140.69,1520.74 L2141.24,1521.26 L2141.79,1521.77 L2142.34,1522.25 L2142.88,1522.71 L2143.43,1523.16 L2143.98,1523.58 L2144.52,1523.99 L2145.07,1524.37 L2145.62,1524.74 L2146.16,1525.09 L2146.71,1525.43 L2147.26,1525.75 L2147.80,1526.05 L2148.35,1526.33 L2148.90,1526.60 L2149.45,1526.85 L2149.99,1527.09 L2150.54,1527.32 L2151.09,1527.53 L2151.63,1527.72 L2152.18,1527.90 L2152.73,1528.07 L2153.27,1528.23 L2153.82,1528.38 L2154.37,1528.51 L2154.91,1528.63 L2155.46,1528.75 L2156.01,1528.85 L2156.56,1528.94 L2157.10,1529.03 L2157.65,1529.10 L2158.20,1529.17 L2158.74,1529.22 L2159.29,1529.28 L2159.84,1529.32 L2160.38,1529.36 L2160.93,1529.39 L2161.48,1529.42 L2162.02,1529.44 L2162.57,1529.46 L2163.12,1529.47 L2163.67,1529.48 L2164.21,1529.49 L2164.76,1529.49 L2165.31,1529.50 L2165.85,1529.50 L2166.40,1529.50 L2166.95,1529.50 L2167.49,1529.50 L2168.04,1529.50 L2168.59,1529.50 L2169.13,1529.49 L2169.68,1529.49 L2170.23,1529.48 L2170.78,1529.47 L2171.32,1529.46 L2171.87,1529.44 L2172.42,1529.41 L2172.96,1529.39 L2173.51,1529.35 L2174.06,1529.31 L2174.60,1529.26 L2175.15,1529.21 L2175.70,1529.15 L2176.25,1529.08 L2176.79,1529.00 L2177.34,1528.91 L2177.89,1528.82 L2178.43,1528.71 L2178.98,1528.60 L2179.53,1528.47 L2180.07,1528.33 L2180.62,1528.18 L2181.17,1528.02 L2181.71,1527.85 L2182.26,1527.66 L2182.81,1527.46 L2183.36,1527.25 L2183.90,1527.03 L2184.45,1526.79 L2185.00,1526.54 L2185.54,1526.27 L2186.09,1525.99 L2186.64,1525.69 L2187.18,1525.38 L2187.73,1525.05 L2188.28,1524.71 L2188.82,1524.35 L2189.37,1523.97 L2189.92,1523.58 L2190.47,1523.17 L2191.01,1522.75 L2191.56,1522.31 L2192.11,1521.85 L2192.65,1521.37 L2193.20,1520.88 L2193.75,1520.36 L2194.29,1519.83 L2194.84,1519.29 L2195.39,1518.72 L2195.93,1518.14 L2196.48,1517.54 L2197.03,1516.92 L2197.58,1516.28 L2198.12,1515.62 L2198.67,1514.95 L2199.22,1514.26 L2199.76,1513.54 L2200.31,1512.81 L2200.86,1512.07 L2201.40,1511.30 L2201.95,1510.52 L2202.50,1509.71 L2203.05,1508.89 L2203.59,1508.05 L2204.14,1507.20 L2204.69,1506.32 L2205.23,1505.43 L2205.78,1504.52 L2206.33,1503.59 L2206.87,1502.64 L2207.42,1501.68 L2207.97,1500.70 L2208.51,1499.71 L2209.06,1498.69 L2209.61,1497.66 L2210.16,1496.62 L2210.70,1495.55 L2211.25,1494.48 L2211.80,1493.38 L2212.34,1492.27 L2212.89,1491.15 L2213.44,1490.01 L2213.98,1488.86 L2214.53,1487.70 L2215.08,1486.52 L2215.62,1485.32 L2216.17,1484.12 L2216.72,1482.90 L2217.27,1481.67 L2217.81,1480.43 L2218.36,1479.18 L2218.91,1477.92 L2219.45,1476.65 L2220.00,1475.37 L2220.55,1474.08 L2221.09,1472.78 L2221.64,1471.47 L2222.19,1470.16 L2222.73,1468.84 L2223.28,1467.52 L2223.83,1466.19 L2224.38,1464.85 L2224.92,1463.51 L2225.47,1462.17 L2226.02,1460.82 L2226.56,1459.48 L2227.11,1458.13 L2227.66,1456.78 L2228.20,1455.43 L2228.75,1454.08 L2229.30,1452.73 L2229.84,1451.39 L2230.39,1450.05 L2230.94,1448.71 L2231.49,1447.37 L2232.03,1446.04 L2232.58,1444.72 L2233.13,1443.40 L2233.67,1442.09 L2234.22,1440.79 L2234.77,1439.50 L2235.31,1438.22 L2235.86,1436.94 L2236.41,1435.68 L2236.96,1434.43 L2237.50,1433.19 L2238.05,1431.96 L2238.60,1430.75 L2239.14,1429.55 L2239.69,1428.37 L2240.24,1427.20 L2240.78,1426.05 L2241.33,1424.91 L2241.88,1423.79 L2242.42,1422.69 L2242.97,1421.60 L2243.52,1420.54 L2244.07,1419.49 L2244.61,1418.47 L2245.16,1417.46 L2245.71,1416.47 L2246.25,1415.51 L2246.80,1414.56 L2247.35,1413.64 L2247.89,1412.74 L2248.44,1411.86 L2248.99,1411.00 L2249.53,1410.16 L2250.08,1409.35 L2250.63,1408.56 L2251.18,1407.80 L2251.72,1407.05 L2252.27,1406.33 L2252.82,1405.64 L2253.36,1404.97 L2253.91,1404.32 L2254.46,1403.69 L2255.00,1403.09 L2255.55,1402.51 L2256.10,1401.96 L2256.64,1401.43 L2257.19,1400.93 L2257.74,1400.44 L2258.29,1399.99 L2258.83,1399.55 L2259.38,1399.14 L2259.93,1398.75 L2260.47,1398.39 L2261.02,1398.05 L2261.57,1397.73 L2262.11,1397.44 L2262.66,1397.17 L2263.21,1396.92 L2263.76,1396.69 L2264.30,1396.49 L2264.85,1396.31 L2265.40,1396.15 L2265.94,1396.02 L2266.49,1395.90 L2267.04,1395.81 L2267.58,1395.74 L2268.13,1395.70 L2268.68,1395.67 L2269.22,1395.66 L2269.77,1395.68 L2270.32,1395.72 L2270.87,1395.78 L2271.41,1395.86 L2271.96,1395.96 L2272.51,1396.08 L2273.05,1396.22 L2273.60,1396.38" fill="none" stroke="#f00" stroke-width="13.4" stroke-linecap="round" stroke-dasharray="0 21.3"/>
</g>
<path d="M786.5,167.3H1000" fill="none" stroke="#f00" stroke-width="13.4" stroke-linecap="round" stroke-dasharray="0 21.3"/>
<clipPath id="cj"><path d="M32,-72H44V-20H82V-72H94V-20H100V3H0V-20H32Z"/></clipPath>
<text transform="matrix(0.4582,0,0,0.5004,1857.41,573.00)" font-family='"Liberation Sans", Arial, sans-serif' font-size="100" clip-path="url(#cj)" stroke="#000" stroke-width="2.09" stroke-linejoin="round" fill="#000">JJ</text>
<text transform="matrix(0.8200,0,0,0.8268,1029.66,183.34)" font-family='"Liberation Sans", Arial, sans-serif' font-size="100" stroke="#000" stroke-width="1.21" stroke-linejoin="round" fill="#000">[</text>
<text transform="matrix(0.5405,0,0,0.6182,1054.50,183.20)" font-family='"Liberation Sans", Arial, sans-serif' font-size="100" stroke="#000" stroke-width="1.73" stroke-linejoin="round" fill="#000">I</text>
<text transform="matrix(0.4252,0,0,0.4297,1070.17,207.77)" font-family='"Liberation Sans", Arial, sans-serif' font-size="100" stroke="#000" stroke-width="2.34" stroke-linejoin="round" fill="#000">C</text>
<text transform="matrix(0.7170,0,0,0.8300,1103.82,183.28)" font-family='"Liberation Sans", Arial, sans-serif' font-size="100" stroke="#000" stroke-width="1.29" stroke-linejoin="round" fill="#000">(</text>
<text transform="matrix(0.6254,0,0,0.5908,1129.02,183.70)" font-family='"Liberation Serif", "Times New Roman", serif' font-size="100" fill="#000">Φ</text>
<text transform="matrix(0.4366,0,0,0.4519,1175.64,207.75)" font-family='"Liberation Sans", Arial, sans-serif' font-size="100" stroke="#000" stroke-width="2.25" stroke-linejoin="round" fill="#000">ext</text>
<text transform="matrix(0.7132,0,0,0.8300,1236.97,183.28)" font-family='"Liberation Sans", Arial, sans-serif' font-size="100" stroke="#000" stroke-width="1.30" stroke-linejoin="round" fill="#000">)</text>
<text transform="matrix(0.6154,0,0,0.5933,1277.68,183.29)" font-family='"Liberation Sans", Arial, sans-serif' font-size="100" stroke="#000" stroke-width="1.65" stroke-linejoin="round" fill="#000">exp</text>
<text transform="matrix(0.7094,0,0,0.8247,1377.07,183.29)" font-family='"Liberation Sans", Arial, sans-serif' font-size="100" stroke="#000" stroke-width="1.30" stroke-linejoin="round" fill="#000">(</text>
<text transform="matrix(0.6245,0,0,0.5161,1403.59,182.04)" font-family='"Liberation Sans", Arial, sans-serif' font-size="100" stroke="#000" stroke-width="1.75" stroke-linejoin="round" fill="#000">-</text>
<text transform="matrix(0.5658,0,0,0.5735,1436.88,183.64)" font-family='"Liberation Serif", "Times New Roman", serif' font-size="100" fill="#000">0.26</text>
<text transform="matrix(0.6121,0,0,0.5666,1549.81,182.96)" font-family='"Liberation Serif", "Times New Roman", serif' font-size="100" stroke="#000" stroke-width="2.19" stroke-linejoin="round" fill="#000">Φ</text>
<text transform="matrix(0.4327,0,0,0.4489,1595.66,207.55)" font-family='"Liberation Sans", Arial, sans-serif' font-size="100" stroke="#000" stroke-width="2.27" stroke-linejoin="round" fill="#000">ext</text>
<text transform="matrix(0.5117,0,0,0.5627,1654.50,184.04)" font-family='"Liberation Serif", "Times New Roman", serif' font-size="100" fill="#000">/</text>
<text transform="matrix(0.6136,0,0,0.5666,1669.60,182.96)" font-family='"Liberation Serif", "Times New Roman", serif' font-size="100" stroke="#000" stroke-width="2.19" stroke-linejoin="round" fill="#000">Φ</text>
<text transform="matrix(0.3979,0,0,0.4325,1715.91,208.07)" font-family='"Liberation Sans", Arial, sans-serif' font-size="100" stroke="#000" stroke-width="2.41" stroke-linejoin="round" fill="#000">0</text>
<text transform="matrix(0.7170,0,0,0.8257,1743.06,183.37)" font-family='"Liberation Sans", Arial, sans-serif' font-size="100" stroke="#000" stroke-width="1.30" stroke-linejoin="round" fill="#000">)</text>
<text transform="matrix(0.9081,0,0,0.8830,1784.50,182.52)" font-family='"Liberation Sans", Arial, sans-serif' font-size="100" stroke="#000" stroke-width="1.12" stroke-linejoin="round" fill="#000">/</text>
<text transform="matrix(0.6595,0,0,0.6182,1828.80,182.90)" font-family='"Liberation Sans", Arial, sans-serif' font-size="100" stroke="#000" stroke-width="1.57" stroke-linejoin="round" fill="#000">I</text>
<text transform="matrix(0.4252,0,0,0.4325,1846.37,207.97)" font-family='"Liberation Sans", Arial, sans-serif' font-size="100" stroke="#000" stroke-width="2.33" stroke-linejoin="round" fill="#000">C</text>
<text transform="matrix(0.7321,0,0,0.8311,1879.52,183.55)" font-family='"Liberation Sans", Arial, sans-serif' font-size="100" stroke="#000" stroke-width="1.28" stroke-linejoin="round" fill="#000">(</text>
<text transform="matrix(0.6299,0,0,0.5908,1905.11,183.90)" font-family='"Liberation Serif", "Times New Roman", serif' font-size="100" fill="#000">Φ</text>
<text transform="matrix(0.4390,0,0,0.4489,1951.23,207.95)" font-family='"Liberation Sans", Arial, sans-serif' font-size="100" stroke="#000" stroke-width="2.25" stroke-linejoin="round" fill="#000">ext</text>
<text transform="matrix(0.6236,0,0,0.5953,2009.74,181.47)" font-family='"Liberation Sans", Arial, sans-serif' font-size="100" stroke="#000" stroke-width="1.64" stroke-linejoin="round" fill="#000">=</text>
<text transform="matrix(0.6178,0,0,0.6572,2048.03,183.94)" font-family='"Liberation Sans", Arial, sans-serif' font-size="100" stroke="#000" stroke-width="1.57" stroke-linejoin="round" fill="#000">0</text>
<text transform="matrix(0.7245,0,0,0.8311,2085.16,183.55)" font-family='"Liberation Sans", Arial, sans-serif' font-size="100" stroke="#000" stroke-width="1.29" stroke-linejoin="round" fill="#000">)</text>
<text transform="matrix(0.8150,0,0,0.8311,2111.79,183.55)" font-family='"Liberation Sans", Arial, sans-serif' font-size="100" stroke="#000" stroke-width="1.21" stroke-linejoin="round" fill="#000">]</text>
<text transform="matrix(0.5934,0,0,0.5921,2132.73,148.90)" font-family='"Liberation Sans", Arial, sans-serif' font-size="100" stroke="#000" stroke-width="1.69" stroke-linejoin="round" fill="#000">2</text>
<text transform="matrix(0.6400,0,0,0.6251,1813.98,362.60)" font-family='"Liberation Sans", Arial, sans-serif' font-size="100" stroke="#000" stroke-width="1.58" stroke-linejoin="round" fill="#000">n</text>
<text transform="matrix(0.4756,0,0,0.4819,1849.28,397.60)" font-family='"Liberation Sans", Arial, sans-serif' font-size="100" stroke="#000" stroke-width="2.09" stroke-linejoin="round" fill="#000">g</text>
<text transform="matrix(0.6277,0,0,0.5705,1892.02,358.96)" font-family='"Liberation Sans", Arial, sans-serif' font-size="100" stroke="#000" stroke-width="1.67" stroke-linejoin="round" fill="#000">=</text>
<text transform="matrix(0.6419,0,0,0.6265,1946.57,362.67)" font-family='"Liberation Sans", Arial, sans-serif' font-size="100" stroke="#000" stroke-width="1.58" stroke-linejoin="round" fill="#000">even</text>
<text transform="matrix(0.6388,0,0,0.6647,1814.18,527.50)" font-family='"Liberation Sans", Arial, sans-serif' font-size="100" stroke="#000" stroke-width="1.53" stroke-linejoin="round" fill="#000">V</text>
<text transform="matrix(0.6444,0,0,0.7636,1901.63,538.60)" font-family='"Liberation Sans", Arial, sans-serif' font-size="100" stroke="#000" stroke-width="1.42" stroke-linejoin="round" fill="#000">≈</text>
<text transform="matrix(0.6323,0,0,0.6473,1956.84,527.45)" font-family='"Liberation Sans", Arial, sans-serif' font-size="100" stroke="#000" stroke-width="1.56" stroke-linejoin="round" fill="#000">200</text>
<text transform="matrix(0.6299,0,0,0.6559,2080.95,526.89)" font-family='"Liberation Sans", Arial, sans-serif' font-size="100" stroke="#000" stroke-width="1.56" stroke-linejoin="round" fill="#000">µV</text>
<text transform="matrix(1.2276,0,0,1.1519,1191.54,1942.88)" font-family='"Liberation Serif", "Times New Roman", serif' font-size="100" stroke="#000" stroke-width="1.39" stroke-linejoin="round" fill="#000">Φ</text>
<text transform="matrix(0.7602,0,0,0.7832,1284.07,1993.42)" font-family='"Liberation Sans", Arial, sans-serif' font-size="100" stroke="#000" stroke-width="1.30" stroke-linejoin="round" fill="#000">ext</text>
<text transform="matrix(1.0906,0,0,1.2279,1423.18,1942.52)" font-family='"Liberation Sans", Arial, sans-serif' font-size="100" stroke="#000" stroke-width="0.86" stroke-linejoin="round" fill="#000">(</text>
<text transform="matrix(1.2187,0,0,1.1519,1463.97,1942.88)" font-family='"Liberation Serif", "Times New Roman", serif' font-size="100" stroke="#000" stroke-width="1.39" stroke-linejoin="round" fill="#000">Φ</text>
<text transform="matrix(0.7246,0,0,0.7647,1557.90,1993.44)" font-family='"Liberation Sans", Arial, sans-serif' font-size="100" stroke="#000" stroke-width="1.34" stroke-linejoin="round" fill="#000">0</text>
<text transform="matrix(1.0906,0,0,1.2279,1604.78,1942.52)" font-family='"Liberation Sans", Arial, sans-serif' font-size="100" stroke="#000" stroke-width="0.86" stroke-linejoin="round" fill="#000">)</text>
<text transform="matrix(0,-1.3081,1.3120,0,141.80,1328.30)" font-family='"Liberation Sans", Arial, sans-serif' font-size="100" stroke="#000" stroke-width="0.76" stroke-linejoin="round" fill="#000">I</text>
<text transform="matrix(0,-0.8380,0.8693,0,191.13,1291.51)" font-family='"Liberation Sans", Arial, sans-serif' font-size="100" stroke="#000" stroke-width="1.17" stroke-linejoin="round" fill="#000">NISIN</text>
<text transform="matrix(0,-1.2685,1.2286,0,140.57,1030.10)" font-family='"Liberation Sans", Arial, sans-serif' font-size="100" stroke="#000" stroke-width="0.80" stroke-linejoin="round" fill="#000">/</text>
<text transform="matrix(0,-1.1568,1.3120,0,141.80,959.90)" font-family='"Liberation Sans", Arial, sans-serif' font-size="100" stroke="#000" stroke-width="0.81" stroke-linejoin="round" fill="#000">I</text>
<text transform="matrix(0,-0.8440,0.8693,0,191.13,926.46)" font-family='"Liberation Sans", Arial, sans-serif' font-size="100" stroke="#000" stroke-width="1.17" stroke-linejoin="round" fill="#000">NISIN</text>
<text transform="matrix(0,-1.1170,1.2397,0,141.18,700.08)" font-family='"Liberation Sans", Arial, sans-serif' font-size="100" stroke="#000" stroke-width="0.85" stroke-linejoin="round" fill="#000">(</text>
<text transform="matrix(0,-1.2178,1.1693,0,141.15,659.30)" font-family='"Liberation Serif", "Times New Roman", serif' font-size="100" stroke="#000" stroke-width="0.59" stroke-linejoin="round" fill="#000">Φ</text>
<text transform="matrix(0,-0.8405,0.9008,0,191.10,569.77)" font-family='"Liberation Sans", Arial, sans-serif' font-size="100" stroke="#000" stroke-width="1.15" stroke-linejoin="round" fill="#000">ext</text>
<text transform="matrix(0,-0.9908,0.9953,0,136.27,454.51)" font-family='"Liberation Sans", Arial, sans-serif' font-size="100" stroke="#000" stroke-width="1.01" stroke-linejoin="round" fill="#000">=</text>
<text transform="matrix(0,-1.0262,1.0883,0,141.41,393.60)" font-family='"Liberation Sans", Arial, sans-serif' font-size="100" stroke="#000" stroke-width="0.95" stroke-linejoin="round" fill="#000">0</text>
<text transform="matrix(0,-1.1094,1.2354,0,140.97,329.53)" font-family='"Liberation Sans", Arial, sans-serif' font-size="100" stroke="#000" stroke-width="0.85" stroke-linejoin="round" fill="#000">)</text>
</svg></body></html>
